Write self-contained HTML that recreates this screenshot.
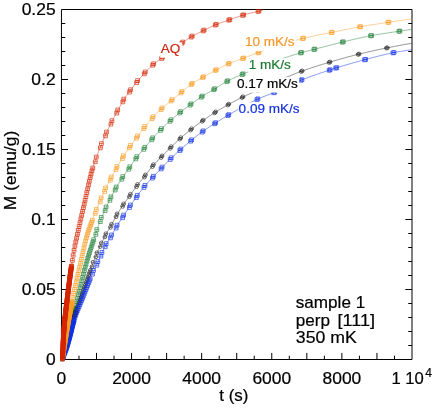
<!DOCTYPE html>
<html><head><meta charset="utf-8"><title>chart</title>
<style>html,body{margin:0;padding:0;background:#fff}svg{display:block;will-change:transform;opacity:0.9999}text{font-family:"Liberation Sans",sans-serif}</style>
</head><body>
<svg width="436" height="408" viewBox="0 0 436 408">
<rect width="436" height="408" fill="#fff"/>
<defs><filter id="bl" x="-5%" y="-5%" width="110%" height="110%"><feGaussianBlur stdDeviation="0.32"/></filter><clipPath id="pc"><rect x="58.45" y="9.2" width="353.85" height="353.3"/></clipPath></defs>
<path d="M61.45 9.5H412V359.5H61.45Z M61.45 345.5h3.8 M412 345.5h-3.8 M61.45 331.5h3.8 M412 331.5h-3.8 M61.45 317.5h3.8 M412 317.5h-3.8 M61.45 303.5h3.8 M412 303.5h-3.8 M61.45 289.5h6.6 M412 289.5h-6.6 M61.45 275.5h3.8 M412 275.5h-3.8 M61.45 261.5h3.8 M412 261.5h-3.8 M61.45 247.5h3.8 M412 247.5h-3.8 M61.45 233.5h3.8 M412 233.5h-3.8 M61.45 219.5h6.6 M412 219.5h-6.6 M61.45 205.5h3.8 M412 205.5h-3.8 M61.45 191.5h3.8 M412 191.5h-3.8 M61.45 177.5h3.8 M412 177.5h-3.8 M61.45 163.5h3.8 M412 163.5h-3.8 M61.45 149.5h6.6 M412 149.5h-6.6 M61.45 135.5h3.8 M412 135.5h-3.8 M61.45 121.5h3.8 M412 121.5h-3.8 M61.45 107.5h3.8 M412 107.5h-3.8 M61.45 93.5h3.8 M412 93.5h-3.8 M61.45 79.5h6.6 M412 79.5h-6.6 M61.45 65.5h3.8 M412 65.5h-3.8 M61.45 51.5h3.8 M412 51.5h-3.8 M61.45 37.5h3.8 M412 37.5h-3.8 M61.45 23.5h3.8 M412 23.5h-3.8 M78.98 359.5v-3.8 M96.5 359.5v-6.6 M114.03 359.5v-3.8 M131.56 359.5v-6.6 M149.09 359.5v-3.8 M166.62 359.5v-6.6 M184.14 359.5v-3.8 M201.67 359.5v-6.6 M219.2 359.5v-3.8 M236.73 359.5v-6.6 M254.25 359.5v-3.8 M271.78 359.5v-6.6 M289.31 359.5v-3.8 M306.83 359.5v-6.6 M324.36 359.5v-3.8 M341.89 359.5v-6.6 M359.42 359.5v-3.8 M376.94 359.5v-6.6 M394.47 359.5v-3.8" stroke="#000" stroke-width="1" fill="none"/>
<g clip-path="url(#pc)" fill="none" filter="url(#bl)">
<path d="M62.4 358.9 L62.6 358.1 L62.8 357.31 L63 356.51 L63.2 355.71 L63.28 355.42 L63.41 354.91 L63.61 354.11 L63.81 353.32 L64.01 352.52 L64.15 351.94 L64.21 351.72 L64.41 350.92 L64.61 350.12 L64.81 349.32 L65.01 348.52 L65.03 348.46 L65.21 347.72 L65.42 346.92 L65.62 346.12 L65.82 345.32 L65.9 344.97 L66.02 344.52 L66.22 343.72 L66.42 342.92 L66.62 342.11 L66.78 341.48 L66.82 341.31 L67.02 340.51 L67.22 339.71 L67.43 338.91 L67.63 338.1 L67.66 337.98 L67.83 337.3 L68.03 336.5 L68.23 335.69 L68.43 334.89 L68.53 334.48 L68.63 334.09 L68.83 333.28 L69.03 332.48 L69.23 331.68 L69.41 330.97 L69.44 330.87 L69.64 330.07 L69.84 329.26 L70.04 328.46 L70.24 327.65 L70.29 327.47 L70.44 326.85 L70.64 326.04 L70.84 325.24 L71.04 324.43 L71.16 323.96 L71.24 323.63 L71.45 322.82 L71.65 322.01 L71.85 321.21 L72.04 320.44 L72.05 320.4 L72.25 319.59 L72.45 318.78 L72.65 317.97 L72.85 317.16 L72.91 316.91 L73.05 316.35 L73.25 315.54 L73.46 314.73 L73.66 313.92 L73.79 313.37 L73.86 313.1 L74.06 312.29 L74.26 311.48 L74.46 310.67 L74.66 309.86 L74.67 309.83 L74.86 309.04 L75.06 308.23 L75.26 307.42 L75.47 306.61 L75.54 306.29 L75.67 305.79 L75.87 304.98 L76.07 304.17 L76.27 303.36 L76.42 302.76 L76.47 302.55 L76.67 301.74 L76.87 300.93 L77.07 300.12 L77.27 299.31 L77.3 299.23 L77.48 298.5 L77.68 297.7 L77.88 296.89 L78.08 296.09 L78.17 295.71 L78.28 295.28 L78.48 294.47 L78.68 293.66 L78.88 292.84 L79.05 292.17 L79.08 292.02 L79.28 291.2 L79.49 290.38 L79.69 289.55 L79.89 288.72 L79.92 288.57 L80.09 287.9 L80.29 287.07 L80.49 286.24 L80.69 285.41 L80.8 284.96 L80.89 284.58 L81.09 283.75 L81.29 282.92 L81.5 282.09 L81.68 281.35 L81.7 281.26 L81.9 280.44 L82.1 279.61 L82.3 278.79 L82.5 277.97 L82.55 277.76 L82.7 277.16 L82.9 276.34 L83.1 275.53 L83.3 274.73 L83.43 274.23 L83.51 273.93 L83.71 273.13 L83.91 272.33 L84.11 271.55 L84.3 270.78 L84.31 270.76 L84.51 269.98 L84.71 269.21 L84.91 268.45 L85.11 267.69 L85.18 267.43 L85.31 266.94 L85.52 266.19 L85.72 265.45 L85.92 264.72 L86.06 264.22 L86.12 264 L86.32 263.28 L86.52 262.58 L86.72 261.88 L86.92 261.18 L86.93 261.14 L87.12 260.49 L87.32 259.8 L87.53 259.12 L87.73 258.44 L87.81 258.16 L87.93 257.76 L88.13 257.09 L88.33 256.42 L88.53 255.76 L88.69 255.25 L88.73 255.1 L88.93 254.45 L89.13 253.79 L89.33 253.15 L89.54 252.5 L89.56 252.42 L89.74 251.86 L89.94 251.22 L90.14 250.58 L90.34 249.95 L90.44 249.64 L90.54 249.32 L90.74 248.69 L90.94 248.07 L91.14 247.45 L91.31 246.92 L91.34 246.83 L91.55 246.21 L91.75 245.6 L91.95 244.98 L92.15 244.37 L92.19 244.25 L92.35 243.76 L92.55 243.16 L92.75 242.55 L92.95 241.95 L93.07 241.6 L93.15 241.34 L93.35 240.74 L93.56 240.14 L93.76 239.54 L93.94 238.99 L93.96 238.95 L94.16 238.35 L94.36 237.75 L94.56 237.16 L94.76 236.56 L94.82 236.39 L94.96 235.97 L95.16 235.38 L95.36 234.78 L95.57 234.19 L95.7 233.81 L95.77 233.6 L95.97 233 L96.17 232.41 L96.37 231.82 L96.57 231.23 L96.57 231.22 L96.77 230.63 L96.97 230.04 L97.17 229.45 L97.37 228.86 L97.45 228.65 L97.58 228.28 L97.78 227.7 L97.98 227.12 L98.18 226.54 L98.32 226.13 L98.38 225.97 L98.58 225.4 L98.78 224.83 L98.98 224.27 L99.18 223.72 L99.2 223.68 L99.38 223.17 L99.59 222.63 L99.79 222.09 L99.99 221.57 L100.08 221.34 L100.19 221.04 L100.39 220.53 L100.59 220.02 L100.79 219.52 L100.95 219.13 L100.99 219.03 L101.19 218.55 L101.39 218.07 L101.6 217.59 L101.8 217.13 L101.83 217.05 L102 216.66 L102.2 216.2 L102.4 215.75 L102.7 215.07 L103.58 213.15 L104.46 211.26 L105.33 209.36 L106.21 207.45 L107.09 205.55 L107.96 203.67 L108.84 201.81 L109.71 199.99 L110.59 198.22 L111.47 196.47 L112.34 194.75 L113.22 193.05 L114.1 191.4 L114.97 189.79 L115.85 188.24 L116.72 186.74 L117.6 185.27 L118.48 183.84 L119.35 182.44 L120.23 181.06 L121.1 179.71 L121.98 178.38 L122.86 177.07 L123.73 175.8 L124.61 174.55 L125.49 173.33 L126.36 172.11 L127.24 170.9 L128.11 169.68 L128.99 168.44 L129.87 167.18 L130.74 165.88 L131.62 164.57 L132.5 163.25 L133.37 161.94 L134.25 160.65 L135.12 159.4 L136 158.2 L136.88 157.05 L137.75 155.96 L138.63 154.89 L139.5 153.86 L140.38 152.84 L141.26 151.83 L142.13 150.83 L143.01 149.82 L143.89 148.79 L144.76 147.75 L145.64 146.68 L146.51 145.61 L147.39 144.54 L148.27 143.47 L149.14 142.4 L150.02 141.35 L150.9 140.31 L151.77 139.29 L152.65 138.29 L153.52 137.31 L154.4 136.34 L155.28 135.38 L156.15 134.43 L157.03 133.5 L157.9 132.57 L158.78 131.66 L159.66 130.76 L160.53 129.87 L161.41 128.99 L162.29 128.13 L163.16 127.28 L164.04 126.44 L164.91 125.6 L165.79 124.78 L166.67 123.97 L167.54 123.16 L168.42 122.37 L169.3 121.58 L170.17 120.79 L171.05 120.01 L171.92 119.24 L172.8 118.48 L173.68 117.72 L174.55 116.96 L175.43 116.22 L176.3 115.48 L177.18 114.75 L178.06 114.03 L178.93 113.32 L179.81 112.61 L180.69 111.92 L181.56 111.23 L182.44 110.55 L183.31 109.88 L184.19 109.22 L185.07 108.56 L185.94 107.91 L186.82 107.26 L187.7 106.62 L188.57 105.98 L189.45 105.34 L190.32 104.7 L191.2 104.06 L192.08 103.42 L192.95 102.79 L193.83 102.15 L194.7 101.51 L195.58 100.88 L196.46 100.25 L197.33 99.63 L198.21 99.02 L199.09 98.41 L199.96 97.82 L200.84 97.23 L201.71 96.66 L202.59 96.09 L203.47 95.54 L204.34 95 L205.22 94.47 L206.1 93.95 L206.97 93.43 L207.85 92.92 L208.72 92.41 L209.6 91.9 L210.48 91.4 L211.35 90.89 L212.23 90.37 L213.1 89.86 L213.98 89.33 L214.86 88.8 L215.73 88.26 L216.61 87.71 L217.49 87.15 L218.36 86.59 L219.24 86.03 L220.11 85.48 L220.99 84.92 L221.87 84.37 L222.74 83.82 L223.62 83.29 L224.5 82.77 L225.37 82.26 L226.25 81.77 L227.12 81.29 L228 80.84 L228.88 80.39 L229.75 79.95 L230.63 79.52 L231.5 79.09 L232.38 78.68 L233.26 78.27 L234.13 77.86 L235.01 77.47 L235.89 77.07 L236.76 76.69 L237.64 76.3 L238.51 75.93 L239.39 75.55 L240.27 75.18 L241.14 74.81 L242.02 74.44 L242.9 74.08 L243.77 73.71 L244.65 73.35 L245.52 72.98 L246.4 72.62 L247.28 72.26 L248.15 71.9 L249.03 71.54 L249.9 71.18 L250.78 70.82 L251.66 70.46 L252.53 70.1 L253.41 69.74 L254.29 69.39 L255.16 69.03 L256.04 68.68 L256.91 68.32 L257.79 67.97 L258.67 67.62 L259.54 67.27 L260.42 66.92 L261.3 66.58 L262.17 66.23 L263.05 65.89 L263.92 65.54 L264.8 65.2 L265.68 64.86 L266.55 64.52 L267.43 64.18 L268.3 63.85 L269.18 63.51 L270.06 63.18 L270.93 62.85 L271.81 62.52 L272.69 62.19 L273.56 61.86 L274.44 61.54 L275.31 61.21 L276.19 60.89 L277.07 60.57 L277.94 60.25 L278.82 59.94 L279.7 59.63 L280.57 59.31 L281.45 59 L282.32 58.7 L283.2 58.39 L284.08 58.09 L284.95 57.79 L285.83 57.49 L286.7 57.19 L287.58 56.9 L288.46 56.6 L289.33 56.32 L290.21 56.03 L291.09 55.74 L291.96 55.46 L292.84 55.18 L293.71 54.9 L294.59 54.63 L295.47 54.36 L296.34 54.09 L297.22 53.82 L298.1 53.56 L298.97 53.29 L299.85 53.04 L300.72 52.78 L301.6 52.53 L302.48 52.28 L303.35 52.05 L304.23 51.82 L305.1 51.59 L305.98 51.37 L306.86 51.15 L307.73 50.93 L308.61 50.72 L309.49 50.51 L310.36 50.3 L311.24 50.08 L312.11 49.87 L312.99 49.65 L313.87 49.44 L314.74 49.21 L315.62 48.99 L316.5 48.76 L317.37 48.54 L318.25 48.31 L319.12 48.08 L320 47.85 L320.88 47.62 L321.75 47.39 L322.63 47.16 L323.5 46.93 L324.38 46.7 L325.26 46.47 L326.13 46.24 L327.01 46.01 L327.89 45.78 L328.76 45.55 L329.64 45.32 L330.51 45.09 L331.39 44.86 L332.27 44.64 L333.14 44.41 L334.02 44.18 L334.9 43.96 L335.77 43.74 L336.65 43.51 L337.52 43.29 L338.4 43.07 L339.28 42.86 L340.15 42.64 L341.03 42.43 L341.9 42.21 L342.78 42 L343.66 41.8 L344.53 41.59 L345.41 41.38 L346.29 41.17 L347.16 40.96 L348.04 40.75 L348.91 40.54 L349.79 40.33 L350.67 40.12 L351.54 39.92 L352.42 39.71 L353.3 39.51 L354.17 39.3 L355.05 39.1 L355.92 38.9 L356.8 38.7 L357.68 38.5 L358.55 38.3 L359.43 38.1 L360.3 37.91 L361.18 37.72 L362.06 37.53 L362.93 37.34 L363.81 37.15 L364.69 36.97 L365.56 36.79 L366.44 36.61 L367.31 36.43 L368.19 36.26 L369.07 36.09 L369.94 35.92 L370.82 35.75 L371.7 35.59 L372.57 35.43 L373.45 35.27 L374.32 35.12 L375.2 34.96 L376.08 34.81 L376.95 34.66 L377.83 34.51 L378.7 34.37 L379.58 34.22 L380.46 34.08 L381.33 33.94 L382.21 33.8 L383.09 33.66 L383.96 33.52 L384.84 33.39 L385.71 33.25 L386.59 33.12 L387.47 32.98 L388.34 32.85 L389.22 32.72 L390.1 32.59 L390.97 32.45 L391.85 32.32 L392.72 32.19 L393.6 32.06 L394.48 31.93 L395.35 31.8 L396.23 31.67 L397.1 31.54 L397.98 31.41 L398.86 31.28 L399.73 31.15 L400.61 31.02 L401.49 30.89 L402.36 30.76 L403.24 30.64 L404.11 30.51 L404.99 30.38 L405.87 30.26 L406.74 30.13 L407.62 30.01 L408.5 29.89 L409.37 29.76 L410.25 29.64 L411.12 29.52 L412 29.4" stroke="#23823a" stroke-width="0.5"/>
<path d="M60.5 357h3.8v3.8h-3.8z M60.5 358.9h3.8 M60.65 356.42h3.8v3.8h-3.8z M60.65 358.32h3.8 M60.79 355.84h3.8v3.8h-3.8z M60.79 357.74h3.8 M60.94 355.25h3.8v3.8h-3.8z M60.94 357.15h3.8 M61.09 354.67h3.8v3.8h-3.8z M61.09 356.57h3.8 M61.23 354.09h3.8v3.8h-3.8z M61.23 355.99h3.8 M61.38 353.51h3.8v3.8h-3.8z M61.38 355.41h3.8 M61.53 352.93h3.8v3.8h-3.8z M61.53 354.83h3.8 M61.67 352.35h3.8v3.8h-3.8z M61.67 354.25h3.8 M61.82 351.76h3.8v3.8h-3.8z M61.82 353.66h3.8 M61.97 351.18h3.8v3.8h-3.8z M61.97 353.08h3.8 M62.11 350.6h3.8v3.8h-3.8z M62.11 352.5h3.8 M62.26 350.02h3.8v3.8h-3.8z M62.26 351.92h3.8 M62.41 349.44h3.8v3.8h-3.8z M62.41 351.34h3.8 M62.55 348.85h3.8v3.8h-3.8z M62.55 350.75h3.8 M62.7 348.27h3.8v3.8h-3.8z M62.7 350.17h3.8 M62.84 347.69h3.8v3.8h-3.8z M62.84 349.59h3.8 M62.99 347.11h3.8v3.8h-3.8z M62.99 349.01h3.8 M63.14 346.53h3.8v3.8h-3.8z M63.14 348.43h3.8 M63.28 345.94h3.8v3.8h-3.8z M63.28 347.84h3.8 M63.43 345.36h3.8v3.8h-3.8z M63.43 347.26h3.8 M63.57 344.78h3.8v3.8h-3.8z M63.57 346.68h3.8 M63.72 344.2h3.8v3.8h-3.8z M63.72 346.1h3.8 M63.87 343.62h3.8v3.8h-3.8z M63.87 345.52h3.8 M64.01 343.04h3.8v3.8h-3.8z M64.01 344.94h3.8 M64.16 342.45h3.8v3.8h-3.8z M64.16 344.35h3.8 M64.31 341.87h3.8v3.8h-3.8z M64.31 343.77h3.8 M64.45 341.29h3.8v3.8h-3.8z M64.45 343.19h3.8 M64.6 340.71h3.8v3.8h-3.8z M64.6 342.61h3.8 M64.74 340.13h3.8v3.8h-3.8z M64.74 342.03h3.8 M64.89 339.54h3.8v3.8h-3.8z M64.89 341.44h3.8 M65.04 338.96h3.8v3.8h-3.8z M65.04 340.86h3.8 M65.18 338.38h3.8v3.8h-3.8z M65.18 340.28h3.8 M65.33 337.8h3.8v3.8h-3.8z M65.33 339.7h3.8 M65.47 337.22h3.8v3.8h-3.8z M65.47 339.12h3.8 M65.62 336.63h3.8v3.8h-3.8z M65.62 338.53h3.8 M65.76 336.05h3.8v3.8h-3.8z M65.76 337.95h3.8 M65.91 335.47h3.8v3.8h-3.8z M65.91 337.37h3.8 M66.06 334.89h3.8v3.8h-3.8z M66.06 336.79h3.8 M66.2 334.31h3.8v3.8h-3.8z M66.2 336.21h3.8 M66.35 333.72h3.8v3.8h-3.8z M66.35 335.62h3.8 M66.49 333.14h3.8v3.8h-3.8z M66.49 335.04h3.8 M66.64 332.56h3.8v3.8h-3.8z M66.64 334.46h3.8 M66.78 331.98h3.8v3.8h-3.8z M66.78 333.88h3.8 M66.93 331.39h3.8v3.8h-3.8z M66.93 333.29h3.8 M67.08 330.81h3.8v3.8h-3.8z M67.08 332.71h3.8 M67.22 330.23h3.8v3.8h-3.8z M67.22 332.13h3.8 M67.37 329.65h3.8v3.8h-3.8z M67.37 331.55h3.8 M67.51 329.07h3.8v3.8h-3.8z M67.51 330.97h3.8 M67.66 328.48h3.8v3.8h-3.8z M67.66 330.38h3.8 M67.8 327.9h3.8v3.8h-3.8z M67.8 329.8h3.8 M67.95 327.32h3.8v3.8h-3.8z M67.95 329.22h3.8 M68.09 326.74h3.8v3.8h-3.8z M68.09 328.64h3.8 M68.24 326.16h3.8v3.8h-3.8z M68.24 328.06h3.8 M68.38 325.57h3.8v3.8h-3.8z M68.38 327.47h3.8 M68.53 324.99h3.8v3.8h-3.8z M68.53 326.89h3.8 M68.67 324.41h3.8v3.8h-3.8z M68.67 326.31h3.8 M68.82 323.83h3.8v3.8h-3.8z M68.82 325.73h3.8 M68.97 323.25h3.8v3.8h-3.8z M68.97 325.15h3.8 M69.11 322.66h3.8v3.8h-3.8z M69.11 324.56h3.8 M69.26 322.08h3.8v3.8h-3.8z M69.26 323.98h3.8 M69.4 321.5h3.8v3.8h-3.8z M69.4 323.4h3.8 M69.55 320.92h3.8v3.8h-3.8z M69.55 322.82h3.8 M69.69 320.33h3.8v3.8h-3.8z M69.69 322.23h3.8 M69.84 319.75h3.8v3.8h-3.8z M69.84 321.65h3.8 M69.98 319.17h3.8v3.8h-3.8z M69.98 321.07h3.8 M70.13 318.59h3.8v3.8h-3.8z M70.13 320.49h3.8 M70.27 318.01h3.8v3.8h-3.8z M70.27 319.91h3.8 M70.42 317.42h3.8v3.8h-3.8z M70.42 319.32h3.8 M70.56 316.84h3.8v3.8h-3.8z M70.56 318.74h3.8 M70.7 316.26h3.8v3.8h-3.8z M70.7 318.16h3.8 M70.85 315.68h3.8v3.8h-3.8z M70.85 317.58h3.8 M70.99 315.09h3.8v3.8h-3.8z M70.99 316.99h3.8 M71.14 314.51h3.8v3.8h-3.8z M71.14 316.41h3.8 M71.28 313.93h3.8v3.8h-3.8z M71.28 315.83h3.8 M71.43 313.35h3.8v3.8h-3.8z M71.43 315.25h3.8 M71.57 312.76h3.8v3.8h-3.8z M71.57 314.66h3.8 M71.72 312.18h3.8v3.8h-3.8z M71.72 314.08h3.8 M71.86 311.6h3.8v3.8h-3.8z M71.86 313.5h3.8 M72 311.02h3.8v3.8h-3.8z M72 312.92h3.8 M72.15 310.43h3.8v3.8h-3.8z M72.15 312.33h3.8 M72.29 309.85h3.8v3.8h-3.8z M72.29 311.75h3.8 M72.44 309.27h3.8v3.8h-3.8z M72.44 311.17h3.8 M72.58 308.69h3.8v3.8h-3.8z M72.58 310.59h3.8 M72.72 308.1h3.8v3.8h-3.8z M72.72 310h3.8 M72.87 307.52h3.8v3.8h-3.8z M72.87 309.42h3.8 M73.01 306.94h3.8v3.8h-3.8z M73.01 308.84h3.8 M73.1 306.59h3.8v3.8h-3.8z M73.1 308.49h3.8 M73.95 303.15h3.8v3.8h-3.8z M73.95 305.05h3.8 M74.8 299.72h3.8v3.8h-3.8z M74.8 301.62h3.8 M75.65 296.31h3.8v3.8h-3.8z M75.65 298.21h3.8 M76.5 292.89h3.8v3.8h-3.8z M76.5 294.79h3.8 M77.35 289.44h3.8v3.8h-3.8z M77.35 291.34h3.8 M78.2 285.95h3.8v3.8h-3.8z M78.2 287.85h3.8 M79.05 282.44h3.8v3.8h-3.8z M79.05 284.34h3.8 M79.9 278.94h3.8v3.8h-3.8z M79.9 280.84h3.8 M80.75 275.47h3.8v3.8h-3.8z M80.75 277.37h3.8 M81.6 272.05h3.8v3.8h-3.8z M81.6 273.95h3.8 M82.45 268.71h3.8v3.8h-3.8z M82.45 270.61h3.8 M83.3 265.46h3.8v3.8h-3.8z M83.3 267.36h3.8 M84.15 262.34h3.8v3.8h-3.8z M84.15 264.24h3.8 M85 259.36h3.8v3.8h-3.8z M85 261.26h3.8 M85.85 256.46h3.8v3.8h-3.8z M85.85 258.36h3.8 M86.7 253.63h3.8v3.8h-3.8z M86.7 255.53h3.8 M87.55 250.88h3.8v3.8h-3.8z M87.55 252.78h3.8 M88.4 248.18h3.8v3.8h-3.8z M88.4 250.08h3.8 M89.25 245.53h3.8v3.8h-3.8z M89.25 247.43h3.8 M90.1 242.92h3.8v3.8h-3.8z M90.1 244.82h3.8 M90.95 240.35h3.8v3.8h-3.8z M90.95 242.25h3.8 M91.8 237.81h3.8v3.8h-3.8z M91.8 239.71h3.8 M93.9 232.52h3.8v3.8h-3.8z M93.9 234.42h3.8 M94.9 227.72h3.8v3.8h-3.8z M94.9 229.62h3.8 M98.4 219.7h3.8v3.8h-3.8z M98.4 221.6h3.8 M99.4 215.51h3.8v3.8h-3.8z M99.4 217.41h3.8 M103.2 208.74h3.8v3.8h-3.8z M103.2 210.64h3.8 M104.2 205.03h3.8v3.8h-3.8z M104.2 206.93h3.8 M108 198.41h3.8v3.8h-3.8z M108 200.31h3.8 M109 194.99h3.8v3.8h-3.8z M109 196.89h3.8 M113.3 188.09h3.8v3.8h-3.8z M113.3 189.99h3.8 M114.3 185.11h3.8v3.8h-3.8z M114.3 187.01h3.8 M119.9 177.28h3.8v3.8h-3.8z M119.9 179.18h3.8 M120.9 174.72h3.8v3.8h-3.8z M120.9 176.62h3.8 M126.9 167.32h3.8v3.8h-3.8z M126.9 169.22h3.8 M127.9 164.88h3.8v3.8h-3.8z M127.9 166.78h3.8 M133.9 157.01h3.8v3.8h-3.8z M133.9 158.91h3.8 M134.9 154.79h3.8v3.8h-3.8z M134.9 156.69h3.8 M141.9 147.42h3.8v3.8h-3.8z M141.9 149.32h3.8 M142.9 145.38h3.8v3.8h-3.8z M142.9 147.28h3.8 M149.8 137.86h3.8v3.8h-3.8z M149.8 139.76h3.8 M150.8 135.94h3.8v3.8h-3.8z M150.8 137.84h3.8 M158.5 128.45h3.8v3.8h-3.8z M158.5 130.35h3.8 M159.5 126.75h3.8v3.8h-3.8z M159.5 128.65h3.8 M168.1 119.36h3.8v3.8h-3.8z M168.1 121.26h3.8 M169.1 117.84h3.8v3.8h-3.8z M169.1 119.74h3.8 M177.8 111.08h3.8v3.8h-3.8z M177.8 112.98h3.8 M178.8 109.72h3.8v3.8h-3.8z M178.8 111.62h3.8 M188.2 103.22h3.8v3.8h-3.8z M188.2 105.12h3.8 M189.2 101.98h3.8v3.8h-3.8z M189.2 103.88h3.8 M199.4 95.25h3.8v3.8h-3.8z M199.4 97.15h3.8 M200.4 94.15h3.8v3.8h-3.8z M200.4 96.05h3.8 M211.8 87.81h3.8v3.8h-3.8z M211.8 89.71h3.8 M212.8 86.79h3.8v3.8h-3.8z M212.8 88.69h3.8 M224.9 79.75h3.8v3.8h-3.8z M224.9 81.65h3.8 M225.9 78.85h3.8v3.8h-3.8z M225.9 80.75h3.8 M240.2 72.65h3.8v3.8h-3.8z M240.2 74.55h3.8 M241.2 71.95h3.8v3.8h-3.8z M241.2 73.85h3.8 M255.6 66.33h3.8v3.8h-3.8z M255.6 68.23h3.8 M256.6 65.65h3.8v3.8h-3.8z M256.6 67.55h3.8 M272.6 59.74h3.8v3.8h-3.8z M272.6 61.64h3.8 M273.6 59.12h3.8v3.8h-3.8z M273.6 61.02h3.8 M298.6 51.05h3.8v3.8h-3.8z M298.6 52.95h3.8 M299.6 50.55h3.8v3.8h-3.8z M299.6 52.45h3.8 M312 47.62h3.8v3.8h-3.8z M312 49.52h3.8 M313 47.18h3.8v3.8h-3.8z M313 49.08h3.8 M340.4 40.3h3.8v3.8h-3.8z M340.4 42.2h3.8 M341.4 39.9h3.8v3.8h-3.8z M341.4 41.8h3.8 M368.7 33.96h3.8v3.8h-3.8z M368.7 35.86h3.8 M369.7 33.64h3.8v3.8h-3.8z M369.7 35.54h3.8 M397 29.43h3.8v3.8h-3.8z M397 31.33h3.8 M398 29.17h3.8v3.8h-3.8z M398 31.07h3.8" stroke="#23823a" stroke-width="0.65"/>
<path d="M62.4 358.9 L62.6 358.1 L62.8 357.3 L63 356.5 L63.2 355.7 L63.28 355.42 L63.41 354.91 L63.61 354.12 L63.81 353.33 L64.01 352.54 L64.15 351.98 L64.21 351.76 L64.41 350.98 L64.61 350.21 L64.81 349.44 L65.01 348.67 L65.03 348.61 L65.21 347.9 L65.42 347.14 L65.62 346.39 L65.82 345.64 L65.9 345.31 L66.02 344.89 L66.22 344.14 L66.42 343.39 L66.62 342.64 L66.78 342.04 L66.82 341.89 L67.02 341.14 L67.22 340.4 L67.43 339.65 L67.63 338.91 L67.66 338.8 L67.83 338.17 L68.03 337.43 L68.23 336.69 L68.43 335.96 L68.53 335.58 L68.63 335.23 L68.83 334.5 L69.03 333.77 L69.23 333.05 L69.41 332.42 L69.44 332.33 L69.64 331.62 L69.84 330.91 L70.04 330.2 L70.24 329.5 L70.29 329.33 L70.44 328.8 L70.64 328.11 L70.84 327.42 L71.04 326.73 L71.16 326.33 L71.24 326.06 L71.45 325.39 L71.65 324.72 L71.85 324.06 L72.04 323.44 L72.05 323.41 L72.25 322.76 L72.45 322.12 L72.65 321.49 L72.85 320.86 L72.91 320.67 L73.05 320.24 L73.25 319.62 L73.46 319 L73.66 318.4 L73.79 317.99 L73.86 317.79 L74.06 317.19 L74.26 316.6 L74.46 316.01 L74.66 315.42 L74.67 315.4 L74.86 314.83 L75.06 314.25 L75.26 313.67 L75.47 313.1 L75.54 312.88 L75.67 312.53 L75.87 311.96 L76.07 311.39 L76.27 310.83 L76.42 310.41 L76.47 310.26 L76.67 309.7 L76.87 309.15 L77.07 308.59 L77.27 308.03 L77.3 307.97 L77.48 307.48 L77.68 306.92 L77.88 306.37 L78.08 305.81 L78.17 305.56 L78.28 305.26 L78.48 304.71 L78.68 304.16 L78.88 303.6 L79.05 303.15 L79.08 303.05 L79.28 302.49 L79.49 301.94 L79.69 301.38 L79.89 300.83 L79.92 300.72 L80.09 300.27 L80.29 299.71 L80.49 299.14 L80.69 298.58 L80.8 298.27 L80.89 298.01 L81.09 297.45 L81.29 296.87 L81.5 296.3 L81.68 295.78 L81.7 295.72 L81.9 295.14 L82.1 294.56 L82.3 293.98 L82.5 293.4 L82.55 293.25 L82.7 292.81 L82.9 292.22 L83.1 291.64 L83.3 291.05 L83.43 290.68 L83.51 290.46 L83.71 289.87 L83.91 289.27 L84.11 288.68 L84.3 288.1 L84.31 288.09 L84.51 287.49 L84.71 286.9 L84.91 286.3 L85.11 285.71 L85.18 285.51 L85.31 285.11 L85.52 284.52 L85.72 283.92 L85.92 283.33 L86.06 282.92 L86.12 282.73 L86.32 282.14 L86.52 281.54 L86.72 280.95 L86.92 280.36 L86.93 280.33 L87.12 279.77 L87.32 279.17 L87.53 278.58 L87.73 277.99 L87.81 277.75 L87.93 277.4 L88.13 276.82 L88.33 276.23 L88.53 275.65 L88.69 275.2 L88.73 275.06 L88.93 274.48 L89.13 273.9 L89.33 273.32 L89.54 272.75 L89.56 272.67 L89.74 272.17 L89.94 271.6 L90.14 271.03 L90.34 270.46 L90.44 270.19 L90.54 269.9 L90.74 269.33 L90.94 268.77 L91.14 268.22 L91.31 267.75 L91.34 267.66 L91.55 267.11 L91.75 266.56 L91.95 266.01 L92.15 265.47 L92.19 265.36 L92.35 264.93 L92.55 264.4 L92.75 263.86 L92.95 263.33 L93.07 263.04 L93.15 262.81 L93.35 262.29 L93.56 261.77 L93.76 261.26 L93.94 260.78 L93.96 260.74 L94.16 260.24 L94.36 259.73 L94.56 259.23 L94.76 258.73 L94.82 258.59 L94.96 258.24 L95.16 257.74 L95.36 257.25 L95.57 256.76 L95.7 256.45 L95.77 256.28 L95.97 255.79 L96.17 255.31 L96.37 254.83 L96.57 254.36 L96.57 254.35 L96.77 253.88 L96.97 253.41 L97.17 252.94 L97.37 252.47 L97.45 252.3 L97.58 252 L97.78 251.53 L97.98 251.07 L98.18 250.61 L98.32 250.28 L98.38 250.15 L98.58 249.7 L98.78 249.24 L98.98 248.79 L99.18 248.34 L99.2 248.3 L99.38 247.89 L99.59 247.44 L99.79 247 L99.99 246.55 L100.08 246.36 L100.19 246.11 L100.39 245.67 L100.59 245.24 L100.79 244.8 L100.95 244.45 L100.99 244.37 L101.19 243.93 L101.39 243.5 L101.6 243.06 L101.8 242.63 L101.83 242.56 L102 242.2 L102.2 241.77 L102.4 241.34 L102.7 240.7 L103.58 238.88 L104.46 237.11 L105.33 235.42 L106.21 233.83 L107.09 232.33 L107.96 230.88 L108.84 229.45 L109.71 228.01 L110.59 226.52 L111.47 224.96 L112.34 223.32 L113.22 221.63 L114.1 219.93 L114.97 218.25 L115.85 216.63 L116.72 215.09 L117.6 213.62 L118.48 212.19 L119.35 210.79 L120.23 209.43 L121.1 208.09 L121.98 206.77 L122.86 205.46 L123.73 204.17 L124.61 202.9 L125.49 201.65 L126.36 200.42 L127.24 199.2 L128.11 197.99 L128.99 196.77 L129.87 195.55 L130.74 194.31 L131.62 193.06 L132.5 191.82 L133.37 190.57 L134.25 189.33 L135.12 188.12 L136 186.92 L136.88 185.76 L137.75 184.64 L138.63 183.54 L139.5 182.48 L140.38 181.43 L141.26 180.39 L142.13 179.36 L143.01 178.31 L143.89 177.25 L144.76 176.17 L145.64 175.06 L146.51 173.91 L147.39 172.73 L148.27 171.55 L149.14 170.36 L150.02 169.19 L150.9 168.05 L151.77 166.95 L152.65 165.89 L153.52 164.89 L154.4 163.94 L155.28 163.01 L156.15 162.11 L157.03 161.23 L157.9 160.36 L158.78 159.5 L159.66 158.64 L160.53 157.77 L161.41 156.89 L162.29 156 L163.16 155.11 L164.04 154.21 L164.91 153.32 L165.79 152.42 L166.67 151.53 L167.54 150.64 L168.42 149.76 L169.3 148.89 L170.17 148.02 L171.05 147.16 L171.92 146.3 L172.8 145.45 L173.68 144.6 L174.55 143.75 L175.43 142.91 L176.3 142.08 L177.18 141.25 L178.06 140.43 L178.93 139.63 L179.81 138.84 L180.69 138.06 L181.56 137.29 L182.44 136.53 L183.31 135.78 L184.19 135.03 L185.07 134.3 L185.94 133.57 L186.82 132.84 L187.7 132.13 L188.57 131.42 L189.45 130.71 L190.32 130.01 L191.2 129.32 L192.08 128.63 L192.95 127.95 L193.83 127.27 L194.7 126.6 L195.58 125.93 L196.46 125.26 L197.33 124.61 L198.21 123.95 L199.09 123.31 L199.96 122.67 L200.84 122.03 L201.71 121.4 L202.59 120.78 L203.47 120.16 L204.34 119.54 L205.22 118.94 L206.1 118.33 L206.97 117.73 L207.85 117.14 L208.72 116.54 L209.6 115.96 L210.48 115.38 L211.35 114.8 L212.23 114.23 L213.1 113.67 L213.98 113.11 L214.86 112.55 L215.73 112 L216.61 111.46 L217.49 110.92 L218.36 110.38 L219.24 109.85 L220.11 109.32 L220.99 108.8 L221.87 108.28 L222.74 107.77 L223.62 107.25 L224.5 106.75 L225.37 106.25 L226.25 105.75 L227.12 105.26 L228 104.77 L228.88 104.28 L229.75 103.8 L230.63 103.32 L231.5 102.85 L232.38 102.38 L233.26 101.91 L234.13 101.45 L235.01 100.99 L235.89 100.53 L236.76 100.08 L237.64 99.63 L238.51 99.18 L239.39 98.74 L240.27 98.3 L241.14 97.87 L242.02 97.44 L242.9 97.01 L243.77 96.59 L244.65 96.17 L245.52 95.76 L246.4 95.35 L247.28 94.94 L248.15 94.54 L249.03 94.14 L249.9 93.75 L250.78 93.35 L251.66 92.95 L252.53 92.56 L253.41 92.16 L254.29 91.76 L255.16 91.37 L256.04 90.97 L256.91 90.57 L257.79 90.16 L258.67 89.76 L259.54 89.36 L260.42 88.96 L261.3 88.56 L262.17 88.15 L263.05 87.75 L263.92 87.35 L264.8 86.95 L265.68 86.54 L266.55 86.14 L267.43 85.74 L268.3 85.34 L269.18 84.94 L270.06 84.54 L270.93 84.14 L271.81 83.74 L272.69 83.34 L273.56 82.94 L274.44 82.55 L275.31 82.15 L276.19 81.76 L277.07 81.37 L277.94 80.97 L278.82 80.59 L279.7 80.2 L280.57 79.81 L281.45 79.43 L282.32 79.04 L283.2 78.66 L284.08 78.28 L284.95 77.9 L285.83 77.53 L286.7 77.16 L287.58 76.79 L288.46 76.42 L289.33 76.05 L290.21 75.69 L291.09 75.33 L291.96 74.97 L292.84 74.61 L293.71 74.26 L294.59 73.91 L295.47 73.57 L296.34 73.22 L297.22 72.88 L298.1 72.55 L298.97 72.21 L299.85 71.88 L300.72 71.56 L301.6 71.24 L302.48 70.92 L303.35 70.6 L304.23 70.29 L305.1 69.98 L305.98 69.67 L306.86 69.37 L307.73 69.07 L308.61 68.77 L309.49 68.48 L310.36 68.18 L311.24 67.89 L312.11 67.61 L312.99 67.32 L313.87 67.04 L314.74 66.75 L315.62 66.47 L316.5 66.2 L317.37 65.92 L318.25 65.65 L319.12 65.37 L320 65.1 L320.88 64.83 L321.75 64.56 L322.63 64.29 L323.5 64.03 L324.38 63.76 L325.26 63.5 L326.13 63.24 L327.01 62.97 L327.89 62.71 L328.76 62.45 L329.64 62.19 L330.51 61.93 L331.39 61.67 L332.27 61.41 L333.14 61.15 L334.02 60.9 L334.9 60.64 L335.77 60.38 L336.65 60.13 L337.52 59.88 L338.4 59.62 L339.28 59.37 L340.15 59.12 L341.03 58.88 L341.9 58.63 L342.78 58.38 L343.66 58.14 L344.53 57.89 L345.41 57.65 L346.29 57.41 L347.16 57.17 L348.04 56.93 L348.91 56.7 L349.79 56.46 L350.67 56.23 L351.54 56 L352.42 55.77 L353.3 55.54 L354.17 55.32 L355.05 55.09 L355.92 54.87 L356.8 54.65 L357.68 54.43 L358.55 54.21 L359.43 54 L360.3 53.78 L361.18 53.57 L362.06 53.36 L362.93 53.15 L363.81 52.94 L364.69 52.74 L365.56 52.53 L366.44 52.33 L367.31 52.12 L368.19 51.92 L369.07 51.72 L369.94 51.53 L370.82 51.33 L371.7 51.13 L372.57 50.94 L373.45 50.74 L374.32 50.55 L375.2 50.36 L376.08 50.17 L376.95 49.98 L377.83 49.79 L378.7 49.6 L379.58 49.42 L380.46 49.23 L381.33 49.05 L382.21 48.86 L383.09 48.68 L383.96 48.5 L384.84 48.32 L385.71 48.14 L386.59 47.96 L387.47 47.79 L388.34 47.61 L389.22 47.43 L390.1 47.26 L390.97 47.08 L391.85 46.91 L392.72 46.74 L393.6 46.57 L394.48 46.4 L395.35 46.23 L396.23 46.06 L397.1 45.89 L397.98 45.73 L398.86 45.56 L399.73 45.4 L400.61 45.23 L401.49 45.07 L402.36 44.91 L403.24 44.75 L404.11 44.59 L404.99 44.43 L405.87 44.27 L406.74 44.12 L407.62 43.96 L408.5 43.81 L409.37 43.65 L410.25 43.5 L411.12 43.35 L412 43.2" stroke="#262626" stroke-width="0.5"/>
<path d="M60.5 358.9a1.9 1.9 0 1 0 3.8 0a1.9 1.9 0 1 0 -3.8 0z M60.5 358.9h3.8 M60.65 358.32a1.9 1.9 0 1 0 3.8 0a1.9 1.9 0 1 0 -3.8 0z M60.65 358.32h3.8 M60.79 357.74a1.9 1.9 0 1 0 3.8 0a1.9 1.9 0 1 0 -3.8 0z M60.79 357.74h3.8 M60.94 357.15a1.9 1.9 0 1 0 3.8 0a1.9 1.9 0 1 0 -3.8 0z M60.94 357.15h3.8 M61.08 356.57a1.9 1.9 0 1 0 3.8 0a1.9 1.9 0 1 0 -3.8 0z M61.08 356.57h3.8 M61.23 355.99a1.9 1.9 0 1 0 3.8 0a1.9 1.9 0 1 0 -3.8 0z M61.23 355.99h3.8 M61.38 355.41a1.9 1.9 0 1 0 3.8 0a1.9 1.9 0 1 0 -3.8 0z M61.38 355.41h3.8 M61.53 354.83a1.9 1.9 0 1 0 3.8 0a1.9 1.9 0 1 0 -3.8 0z M61.53 354.83h3.8 M61.67 354.25a1.9 1.9 0 1 0 3.8 0a1.9 1.9 0 1 0 -3.8 0z M61.67 354.25h3.8 M61.82 353.66a1.9 1.9 0 1 0 3.8 0a1.9 1.9 0 1 0 -3.8 0z M61.82 353.66h3.8 M61.97 353.08a1.9 1.9 0 1 0 3.8 0a1.9 1.9 0 1 0 -3.8 0z M61.97 353.08h3.8 M62.12 352.5a1.9 1.9 0 1 0 3.8 0a1.9 1.9 0 1 0 -3.8 0z M62.12 352.5h3.8 M62.27 351.92a1.9 1.9 0 1 0 3.8 0a1.9 1.9 0 1 0 -3.8 0z M62.27 351.92h3.8 M62.42 351.34a1.9 1.9 0 1 0 3.8 0a1.9 1.9 0 1 0 -3.8 0z M62.42 351.34h3.8 M62.57 350.76a1.9 1.9 0 1 0 3.8 0a1.9 1.9 0 1 0 -3.8 0z M62.57 350.76h3.8 M62.72 350.18a1.9 1.9 0 1 0 3.8 0a1.9 1.9 0 1 0 -3.8 0z M62.72 350.18h3.8 M62.87 349.6a1.9 1.9 0 1 0 3.8 0a1.9 1.9 0 1 0 -3.8 0z M62.87 349.6h3.8 M63.02 349.02a1.9 1.9 0 1 0 3.8 0a1.9 1.9 0 1 0 -3.8 0z M63.02 349.02h3.8 M63.17 348.44a1.9 1.9 0 1 0 3.8 0a1.9 1.9 0 1 0 -3.8 0z M63.17 348.44h3.8 M63.33 347.86a1.9 1.9 0 1 0 3.8 0a1.9 1.9 0 1 0 -3.8 0z M63.33 347.86h3.8 M63.48 347.28a1.9 1.9 0 1 0 3.8 0a1.9 1.9 0 1 0 -3.8 0z M63.48 347.28h3.8 M63.63 346.7a1.9 1.9 0 1 0 3.8 0a1.9 1.9 0 1 0 -3.8 0z M63.63 346.7h3.8 M63.79 346.12a1.9 1.9 0 1 0 3.8 0a1.9 1.9 0 1 0 -3.8 0z M63.79 346.12h3.8 M63.94 345.54a1.9 1.9 0 1 0 3.8 0a1.9 1.9 0 1 0 -3.8 0z M63.94 345.54h3.8 M64.1 344.96a1.9 1.9 0 1 0 3.8 0a1.9 1.9 0 1 0 -3.8 0z M64.1 344.96h3.8 M64.25 344.38a1.9 1.9 0 1 0 3.8 0a1.9 1.9 0 1 0 -3.8 0z M64.25 344.38h3.8 M64.41 343.8a1.9 1.9 0 1 0 3.8 0a1.9 1.9 0 1 0 -3.8 0z M64.41 343.8h3.8 M64.57 343.22a1.9 1.9 0 1 0 3.8 0a1.9 1.9 0 1 0 -3.8 0z M64.57 343.22h3.8 M64.72 342.64a1.9 1.9 0 1 0 3.8 0a1.9 1.9 0 1 0 -3.8 0z M64.72 342.64h3.8 M64.88 342.06a1.9 1.9 0 1 0 3.8 0a1.9 1.9 0 1 0 -3.8 0z M64.88 342.06h3.8 M65.03 341.48a1.9 1.9 0 1 0 3.8 0a1.9 1.9 0 1 0 -3.8 0z M65.03 341.48h3.8 M65.19 340.9a1.9 1.9 0 1 0 3.8 0a1.9 1.9 0 1 0 -3.8 0z M65.19 340.9h3.8 M65.34 340.32a1.9 1.9 0 1 0 3.8 0a1.9 1.9 0 1 0 -3.8 0z M65.34 340.32h3.8 M65.5 339.74a1.9 1.9 0 1 0 3.8 0a1.9 1.9 0 1 0 -3.8 0z M65.5 339.74h3.8 M65.66 339.16a1.9 1.9 0 1 0 3.8 0a1.9 1.9 0 1 0 -3.8 0z M65.66 339.16h3.8 M65.81 338.58a1.9 1.9 0 1 0 3.8 0a1.9 1.9 0 1 0 -3.8 0z M65.81 338.58h3.8 M65.97 338.01a1.9 1.9 0 1 0 3.8 0a1.9 1.9 0 1 0 -3.8 0z M65.97 338.01h3.8 M66.13 337.43a1.9 1.9 0 1 0 3.8 0a1.9 1.9 0 1 0 -3.8 0z M66.13 337.43h3.8 M66.29 336.85a1.9 1.9 0 1 0 3.8 0a1.9 1.9 0 1 0 -3.8 0z M66.29 336.85h3.8 M66.45 336.27a1.9 1.9 0 1 0 3.8 0a1.9 1.9 0 1 0 -3.8 0z M66.45 336.27h3.8 M66.6 335.69a1.9 1.9 0 1 0 3.8 0a1.9 1.9 0 1 0 -3.8 0z M66.6 335.69h3.8 M66.76 335.11a1.9 1.9 0 1 0 3.8 0a1.9 1.9 0 1 0 -3.8 0z M66.76 335.11h3.8 M66.92 334.53a1.9 1.9 0 1 0 3.8 0a1.9 1.9 0 1 0 -3.8 0z M66.92 334.53h3.8 M67.08 333.95a1.9 1.9 0 1 0 3.8 0a1.9 1.9 0 1 0 -3.8 0z M67.08 333.95h3.8 M67.24 333.38a1.9 1.9 0 1 0 3.8 0a1.9 1.9 0 1 0 -3.8 0z M67.24 333.38h3.8 M67.4 332.8a1.9 1.9 0 1 0 3.8 0a1.9 1.9 0 1 0 -3.8 0z M67.4 332.8h3.8 M67.57 332.22a1.9 1.9 0 1 0 3.8 0a1.9 1.9 0 1 0 -3.8 0z M67.57 332.22h3.8 M67.73 331.64a1.9 1.9 0 1 0 3.8 0a1.9 1.9 0 1 0 -3.8 0z M67.73 331.64h3.8 M67.89 331.07a1.9 1.9 0 1 0 3.8 0a1.9 1.9 0 1 0 -3.8 0z M67.89 331.07h3.8 M68.06 330.49a1.9 1.9 0 1 0 3.8 0a1.9 1.9 0 1 0 -3.8 0z M68.06 330.49h3.8 M68.22 329.91a1.9 1.9 0 1 0 3.8 0a1.9 1.9 0 1 0 -3.8 0z M68.22 329.91h3.8 M68.39 329.33a1.9 1.9 0 1 0 3.8 0a1.9 1.9 0 1 0 -3.8 0z M68.39 329.33h3.8 M68.55 328.76a1.9 1.9 0 1 0 3.8 0a1.9 1.9 0 1 0 -3.8 0z M68.55 328.76h3.8 M68.72 328.18a1.9 1.9 0 1 0 3.8 0a1.9 1.9 0 1 0 -3.8 0z M68.72 328.18h3.8 M68.89 327.61a1.9 1.9 0 1 0 3.8 0a1.9 1.9 0 1 0 -3.8 0z M68.89 327.61h3.8 M69.06 327.03a1.9 1.9 0 1 0 3.8 0a1.9 1.9 0 1 0 -3.8 0z M69.06 327.03h3.8 M69.23 326.45a1.9 1.9 0 1 0 3.8 0a1.9 1.9 0 1 0 -3.8 0z M69.23 326.45h3.8 M69.4 325.88a1.9 1.9 0 1 0 3.8 0a1.9 1.9 0 1 0 -3.8 0z M69.4 325.88h3.8 M69.57 325.31a1.9 1.9 0 1 0 3.8 0a1.9 1.9 0 1 0 -3.8 0z M69.57 325.31h3.8 M69.74 324.73a1.9 1.9 0 1 0 3.8 0a1.9 1.9 0 1 0 -3.8 0z M69.74 324.73h3.8 M69.92 324.16a1.9 1.9 0 1 0 3.8 0a1.9 1.9 0 1 0 -3.8 0z M69.92 324.16h3.8 M70.09 323.58a1.9 1.9 0 1 0 3.8 0a1.9 1.9 0 1 0 -3.8 0z M70.09 323.58h3.8 M70.27 323.01a1.9 1.9 0 1 0 3.8 0a1.9 1.9 0 1 0 -3.8 0z M70.27 323.01h3.8 M70.45 322.44a1.9 1.9 0 1 0 3.8 0a1.9 1.9 0 1 0 -3.8 0z M70.45 322.44h3.8 M70.63 321.87a1.9 1.9 0 1 0 3.8 0a1.9 1.9 0 1 0 -3.8 0z M70.63 321.87h3.8 M70.81 321.29a1.9 1.9 0 1 0 3.8 0a1.9 1.9 0 1 0 -3.8 0z M70.81 321.29h3.8 M71 320.72a1.9 1.9 0 1 0 3.8 0a1.9 1.9 0 1 0 -3.8 0z M71 320.72h3.8 M71.18 320.15a1.9 1.9 0 1 0 3.8 0a1.9 1.9 0 1 0 -3.8 0z M71.18 320.15h3.8 M71.37 319.58a1.9 1.9 0 1 0 3.8 0a1.9 1.9 0 1 0 -3.8 0z M71.37 319.58h3.8 M71.55 319.01a1.9 1.9 0 1 0 3.8 0a1.9 1.9 0 1 0 -3.8 0z M71.55 319.01h3.8 M71.74 318.44a1.9 1.9 0 1 0 3.8 0a1.9 1.9 0 1 0 -3.8 0z M71.74 318.44h3.8 M71.93 317.87a1.9 1.9 0 1 0 3.8 0a1.9 1.9 0 1 0 -3.8 0z M71.93 317.87h3.8 M72.12 317.3a1.9 1.9 0 1 0 3.8 0a1.9 1.9 0 1 0 -3.8 0z M72.12 317.3h3.8 M72.31 316.73a1.9 1.9 0 1 0 3.8 0a1.9 1.9 0 1 0 -3.8 0z M72.31 316.73h3.8 M72.51 316.17a1.9 1.9 0 1 0 3.8 0a1.9 1.9 0 1 0 -3.8 0z M72.51 316.17h3.8 M72.7 315.6a1.9 1.9 0 1 0 3.8 0a1.9 1.9 0 1 0 -3.8 0z M72.7 315.6h3.8 M72.89 315.03a1.9 1.9 0 1 0 3.8 0a1.9 1.9 0 1 0 -3.8 0z M72.89 315.03h3.8 M73.09 314.46a1.9 1.9 0 1 0 3.8 0a1.9 1.9 0 1 0 -3.8 0z M73.09 314.46h3.8 M73.29 313.9a1.9 1.9 0 1 0 3.8 0a1.9 1.9 0 1 0 -3.8 0z M73.29 313.9h3.8 M73.48 313.33a1.9 1.9 0 1 0 3.8 0a1.9 1.9 0 1 0 -3.8 0z M73.48 313.33h3.8 M73.68 312.76a1.9 1.9 0 1 0 3.8 0a1.9 1.9 0 1 0 -3.8 0z M73.68 312.76h3.8 M73.88 312.2a1.9 1.9 0 1 0 3.8 0a1.9 1.9 0 1 0 -3.8 0z M73.88 312.2h3.8 M74.08 311.63a1.9 1.9 0 1 0 3.8 0a1.9 1.9 0 1 0 -3.8 0z M74.08 311.63h3.8 M74.1 311.58a1.9 1.9 0 1 0 3.8 0a1.9 1.9 0 1 0 -3.8 0z M74.1 311.58h3.8 M74.95 309.21a1.9 1.9 0 1 0 3.8 0a1.9 1.9 0 1 0 -3.8 0z M74.95 309.21h3.8 M75.8 306.86a1.9 1.9 0 1 0 3.8 0a1.9 1.9 0 1 0 -3.8 0z M75.8 306.86h3.8 M76.65 304.52a1.9 1.9 0 1 0 3.8 0a1.9 1.9 0 1 0 -3.8 0z M76.65 304.52h3.8 M77.5 302.18a1.9 1.9 0 1 0 3.8 0a1.9 1.9 0 1 0 -3.8 0z M77.5 302.18h3.8 M78.35 299.82a1.9 1.9 0 1 0 3.8 0a1.9 1.9 0 1 0 -3.8 0z M78.35 299.82h3.8 M79.2 297.43a1.9 1.9 0 1 0 3.8 0a1.9 1.9 0 1 0 -3.8 0z M79.2 297.43h3.8 M80.05 294.99a1.9 1.9 0 1 0 3.8 0a1.9 1.9 0 1 0 -3.8 0z M80.05 294.99h3.8 M80.9 292.52a1.9 1.9 0 1 0 3.8 0a1.9 1.9 0 1 0 -3.8 0z M80.9 292.52h3.8 M81.75 290.03a1.9 1.9 0 1 0 3.8 0a1.9 1.9 0 1 0 -3.8 0z M81.75 290.03h3.8 M82.6 287.53a1.9 1.9 0 1 0 3.8 0a1.9 1.9 0 1 0 -3.8 0z M82.6 287.53h3.8 M83.45 285.01a1.9 1.9 0 1 0 3.8 0a1.9 1.9 0 1 0 -3.8 0z M83.45 285.01h3.8 M84.3 282.49a1.9 1.9 0 1 0 3.8 0a1.9 1.9 0 1 0 -3.8 0z M84.3 282.49h3.8 M85.15 279.98a1.9 1.9 0 1 0 3.8 0a1.9 1.9 0 1 0 -3.8 0z M85.15 279.98h3.8 M86 277.49a1.9 1.9 0 1 0 3.8 0a1.9 1.9 0 1 0 -3.8 0z M86 277.49h3.8 M86.85 275.01a1.9 1.9 0 1 0 3.8 0a1.9 1.9 0 1 0 -3.8 0z M86.85 275.01h3.8 M87.7 272.56a1.9 1.9 0 1 0 3.8 0a1.9 1.9 0 1 0 -3.8 0z M87.7 272.56h3.8 M88.55 270.15a1.9 1.9 0 1 0 3.8 0a1.9 1.9 0 1 0 -3.8 0z M88.55 270.15h3.8 M90.1 266.79a1.9 1.9 0 1 0 3.8 0a1.9 1.9 0 1 0 -3.8 0z M90.1 266.79h3.8 M91.1 262.27a1.9 1.9 0 1 0 3.8 0a1.9 1.9 0 1 0 -3.8 0z M91.1 262.27h3.8 M94 256.78a1.9 1.9 0 1 0 3.8 0a1.9 1.9 0 1 0 -3.8 0z M94 256.78h3.8 M95 252.74a1.9 1.9 0 1 0 3.8 0a1.9 1.9 0 1 0 -3.8 0z M95 252.74h3.8 M98.4 246.62a1.9 1.9 0 1 0 3.8 0a1.9 1.9 0 1 0 -3.8 0z M98.4 246.62h3.8 M99.4 242.94a1.9 1.9 0 1 0 3.8 0a1.9 1.9 0 1 0 -3.8 0z M99.4 242.94h3.8 M103 236.89a1.9 1.9 0 1 0 3.8 0a1.9 1.9 0 1 0 -3.8 0z M103 236.89h3.8 M104 233.71a1.9 1.9 0 1 0 3.8 0a1.9 1.9 0 1 0 -3.8 0z M104 233.71h3.8 M108.6 227.31a1.9 1.9 0 1 0 3.8 0a1.9 1.9 0 1 0 -3.8 0z M108.6 227.31h3.8 M109.6 224.29a1.9 1.9 0 1 0 3.8 0a1.9 1.9 0 1 0 -3.8 0z M109.6 224.29h3.8 M114.2 216.76a1.9 1.9 0 1 0 3.8 0a1.9 1.9 0 1 0 -3.8 0z M114.2 216.76h3.8 M115.2 213.84a1.9 1.9 0 1 0 3.8 0a1.9 1.9 0 1 0 -3.8 0z M115.2 213.84h3.8 M120.7 206.36a1.9 1.9 0 1 0 3.8 0a1.9 1.9 0 1 0 -3.8 0z M120.7 206.36h3.8 M121.7 203.84a1.9 1.9 0 1 0 3.8 0a1.9 1.9 0 1 0 -3.8 0z M121.7 203.84h3.8 M127.5 196.69a1.9 1.9 0 1 0 3.8 0a1.9 1.9 0 1 0 -3.8 0z M127.5 196.69h3.8 M128.5 194.31a1.9 1.9 0 1 0 3.8 0a1.9 1.9 0 1 0 -3.8 0z M128.5 194.31h3.8 M134.6 186.71a1.9 1.9 0 1 0 3.8 0a1.9 1.9 0 1 0 -3.8 0z M134.6 186.71h3.8 M135.6 184.49a1.9 1.9 0 1 0 3.8 0a1.9 1.9 0 1 0 -3.8 0z M135.6 184.49h3.8 M142.5 177.07a1.9 1.9 0 1 0 3.8 0a1.9 1.9 0 1 0 -3.8 0z M142.5 177.07h3.8 M143.5 174.93a1.9 1.9 0 1 0 3.8 0a1.9 1.9 0 1 0 -3.8 0z M143.5 174.93h3.8 M150.5 166.57a1.9 1.9 0 1 0 3.8 0a1.9 1.9 0 1 0 -3.8 0z M150.5 166.57h3.8 M151.5 164.63a1.9 1.9 0 1 0 3.8 0a1.9 1.9 0 1 0 -3.8 0z M151.5 164.63h3.8 M159.2 157.56a1.9 1.9 0 1 0 3.8 0a1.9 1.9 0 1 0 -3.8 0z M159.2 157.56h3.8 M160.2 155.84a1.9 1.9 0 1 0 3.8 0a1.9 1.9 0 1 0 -3.8 0z M160.2 155.84h3.8 M168.3 148.33a1.9 1.9 0 1 0 3.8 0a1.9 1.9 0 1 0 -3.8 0z M168.3 148.33h3.8 M169.3 146.67a1.9 1.9 0 1 0 3.8 0a1.9 1.9 0 1 0 -3.8 0z M169.3 146.67h3.8 M177.9 139.15a1.9 1.9 0 1 0 3.8 0a1.9 1.9 0 1 0 -3.8 0z M177.9 139.15h3.8 M178.9 137.65a1.9 1.9 0 1 0 3.8 0a1.9 1.9 0 1 0 -3.8 0z M178.9 137.65h3.8 M188.7 130.07a1.9 1.9 0 1 0 3.8 0a1.9 1.9 0 1 0 -3.8 0z M188.7 130.07h3.8 M189.7 128.73a1.9 1.9 0 1 0 3.8 0a1.9 1.9 0 1 0 -3.8 0z M189.7 128.73h3.8 M200.3 121.3a1.9 1.9 0 1 0 3.8 0a1.9 1.9 0 1 0 -3.8 0z M200.3 121.3h3.8 M201.3 120.1a1.9 1.9 0 1 0 3.8 0a1.9 1.9 0 1 0 -3.8 0z M201.3 120.1h3.8 M212.7 112.93a1.9 1.9 0 1 0 3.8 0a1.9 1.9 0 1 0 -3.8 0z M212.7 112.93h3.8 M213.7 111.87a1.9 1.9 0 1 0 3.8 0a1.9 1.9 0 1 0 -3.8 0z M213.7 111.87h3.8 M225.9 105.07a1.9 1.9 0 1 0 3.8 0a1.9 1.9 0 1 0 -3.8 0z M225.9 105.07h3.8 M226.9 104.13a1.9 1.9 0 1 0 3.8 0a1.9 1.9 0 1 0 -3.8 0z M226.9 104.13h3.8 M240.1 97.62a1.9 1.9 0 1 0 3.8 0a1.9 1.9 0 1 0 -3.8 0z M240.1 97.62h3.8 M241.1 96.78a1.9 1.9 0 1 0 3.8 0a1.9 1.9 0 1 0 -3.8 0z M241.1 96.78h3.8 M255.6 90.46a1.9 1.9 0 1 0 3.8 0a1.9 1.9 0 1 0 -3.8 0z M255.6 90.46h3.8 M256.6 89.68a1.9 1.9 0 1 0 3.8 0a1.9 1.9 0 1 0 -3.8 0z M256.6 89.68h3.8 M272.6 82.68a1.9 1.9 0 1 0 3.8 0a1.9 1.9 0 1 0 -3.8 0z M272.6 82.68h3.8 M273.6 81.91a1.9 1.9 0 1 0 3.8 0a1.9 1.9 0 1 0 -3.8 0z M273.6 81.91h3.8 M299.3 71.51a1.9 1.9 0 1 0 3.8 0a1.9 1.9 0 1 0 -3.8 0z M299.3 71.51h3.8 M300.3 70.89a1.9 1.9 0 1 0 3.8 0a1.9 1.9 0 1 0 -3.8 0z M300.3 70.89h3.8 M327.2 62.45a1.9 1.9 0 1 0 3.8 0a1.9 1.9 0 1 0 -3.8 0z M327.2 62.45h3.8 M328.2 61.95a1.9 1.9 0 1 0 3.8 0a1.9 1.9 0 1 0 -3.8 0z M328.2 61.95h3.8 M356.2 54.41a1.9 1.9 0 1 0 3.8 0a1.9 1.9 0 1 0 -3.8 0z M356.2 54.41h3.8 M357.2 53.99a1.9 1.9 0 1 0 3.8 0a1.9 1.9 0 1 0 -3.8 0z M357.2 53.99h3.8 M384.5 48.07a1.9 1.9 0 1 0 3.8 0a1.9 1.9 0 1 0 -3.8 0z M384.5 48.07h3.8 M385.5 47.73a1.9 1.9 0 1 0 3.8 0a1.9 1.9 0 1 0 -3.8 0z M385.5 47.73h3.8" stroke="#262626" stroke-width="0.65"/>
<path d="M62.4 358.9 L62.6 358.33 L62.8 357.77 L63 357.21 L63.2 356.65 L63.28 356.45 L63.41 356.09 L63.61 355.53 L63.81 354.98 L64.01 354.44 L64.15 354.05 L64.21 353.9 L64.41 353.37 L64.61 352.85 L64.81 352.33 L65.01 351.81 L65.03 351.77 L65.21 351.29 L65.42 350.76 L65.62 350.22 L65.82 349.67 L65.9 349.43 L66.02 349.11 L66.22 348.53 L66.42 347.94 L66.62 347.33 L66.78 346.83 L66.82 346.7 L67.02 346.05 L67.22 345.4 L67.43 344.73 L67.63 344.05 L67.66 343.94 L67.83 343.36 L68.03 342.66 L68.23 341.96 L68.43 341.25 L68.53 340.88 L68.63 340.53 L68.83 339.82 L69.03 339.1 L69.23 338.38 L69.41 337.74 L69.44 337.64 L69.64 336.89 L69.84 336.13 L70.04 335.35 L70.24 334.56 L70.29 334.37 L70.44 333.75 L70.64 332.95 L70.84 332.13 L71.04 331.31 L71.16 330.83 L71.24 330.49 L71.45 329.67 L71.65 328.86 L71.85 328.05 L72.04 327.28 L72.05 327.24 L72.25 326.44 L72.45 325.66 L72.65 324.89 L72.85 324.13 L72.91 323.9 L73.05 323.39 L73.25 322.67 L73.46 321.97 L73.66 321.29 L73.79 320.85 L73.86 320.64 L74.06 320 L74.26 319.38 L74.46 318.77 L74.66 318.16 L74.67 318.15 L74.86 317.57 L75.06 316.98 L75.26 316.4 L75.47 315.83 L75.54 315.61 L75.67 315.26 L75.87 314.7 L76.07 314.15 L76.27 313.6 L76.42 313.2 L76.47 313.06 L76.67 312.53 L76.87 312 L77.07 311.47 L77.27 310.95 L77.3 310.9 L77.48 310.44 L77.68 309.93 L77.88 309.42 L78.08 308.92 L78.17 308.69 L78.28 308.42 L78.48 307.92 L78.68 307.43 L78.88 306.94 L79.05 306.54 L79.08 306.45 L79.28 305.96 L79.49 305.48 L79.69 305 L79.89 304.52 L79.92 304.43 L80.09 304.03 L80.29 303.55 L80.49 303.07 L80.69 302.59 L80.8 302.34 L80.89 302.11 L81.09 301.63 L81.29 301.15 L81.5 300.67 L81.68 300.24 L81.7 300.19 L81.9 299.7 L82.1 299.22 L82.3 298.73 L82.5 298.24 L82.55 298.11 L82.7 297.74 L82.9 297.24 L83.1 296.74 L83.3 296.24 L83.43 295.93 L83.51 295.73 L83.71 295.22 L83.91 294.71 L84.11 294.2 L84.3 293.7 L84.31 293.69 L84.51 293.18 L84.71 292.67 L84.91 292.15 L85.11 291.64 L85.18 291.47 L85.31 291.13 L85.52 290.61 L85.72 290.1 L85.92 289.58 L86.06 289.22 L86.12 289.07 L86.32 288.55 L86.52 288.04 L86.72 287.53 L86.92 287.01 L86.93 286.99 L87.12 286.5 L87.32 285.99 L87.53 285.48 L87.73 284.97 L87.81 284.76 L87.93 284.46 L88.13 283.95 L88.33 283.45 L88.53 282.94 L88.69 282.55 L88.73 282.44 L88.93 281.93 L89.13 281.43 L89.33 280.94 L89.54 280.44 L89.56 280.37 L89.74 279.94 L89.94 279.45 L90.14 278.96 L90.34 278.47 L90.44 278.23 L90.54 277.99 L90.74 277.5 L90.94 277.02 L91.14 276.54 L91.31 276.14 L91.34 276.07 L91.55 275.6 L91.75 275.13 L91.95 274.66 L92.15 274.2 L92.19 274.1 L92.35 273.74 L92.55 273.28 L92.75 272.83 L92.95 272.38 L93.07 272.13 L93.15 271.94 L93.35 271.5 L93.56 271.07 L93.76 270.65 L93.94 270.26 L93.96 270.23 L94.16 269.81 L94.36 269.4 L94.56 268.99 L94.76 268.58 L94.82 268.47 L94.96 268.18 L95.16 267.77 L95.36 267.37 L95.57 266.97 L95.7 266.71 L95.77 266.56 L95.97 266.16 L96.17 265.75 L96.37 265.34 L96.57 264.93 L96.57 264.93 L96.77 264.51 L96.97 264.09 L97.17 263.67 L97.37 263.24 L97.45 263.08 L97.58 262.81 L97.78 262.37 L97.98 261.93 L98.18 261.48 L98.32 261.16 L98.38 261.04 L98.58 260.59 L98.78 260.14 L98.98 259.69 L99.18 259.24 L99.2 259.2 L99.38 258.78 L99.59 258.33 L99.79 257.88 L99.99 257.43 L100.08 257.23 L100.19 256.98 L100.39 256.53 L100.59 256.08 L100.79 255.63 L100.95 255.28 L100.99 255.19 L101.19 254.75 L101.39 254.31 L101.6 253.87 L101.8 253.44 L101.83 253.37 L102 252.99 L102.2 252.55 L102.4 252.11 L102.7 251.44 L103.58 249.52 L104.46 247.66 L105.33 245.9 L106.21 244.27 L107.09 242.75 L107.96 241.31 L108.84 239.91 L109.71 238.52 L110.59 237.09 L111.47 235.6 L112.34 234.06 L113.22 232.5 L114.1 230.94 L114.97 229.39 L115.85 227.87 L116.72 226.4 L117.6 224.96 L118.48 223.56 L119.35 222.17 L120.23 220.81 L121.1 219.45 L121.98 218.11 L122.86 216.77 L123.73 215.44 L124.61 214.11 L125.49 212.8 L126.36 211.49 L127.24 210.19 L128.11 208.91 L128.99 207.62 L129.87 206.35 L130.74 205.08 L131.62 203.81 L132.5 202.55 L133.37 201.29 L134.25 200.05 L135.12 198.82 L136 197.6 L136.88 196.4 L137.75 195.2 L138.63 194.01 L139.5 192.82 L140.38 191.64 L141.26 190.49 L142.13 189.35 L143.01 188.23 L143.89 187.14 L144.76 186.09 L145.64 185.07 L146.51 184.07 L147.39 183.1 L148.27 182.14 L149.14 181.2 L150.02 180.27 L150.9 179.34 L151.77 178.41 L152.65 177.47 L153.52 176.53 L154.4 175.59 L155.28 174.66 L156.15 173.73 L157.03 172.8 L157.9 171.88 L158.78 170.95 L159.66 170.03 L160.53 169.12 L161.41 168.2 L162.29 167.28 L163.16 166.36 L164.04 165.44 L164.91 164.51 L165.79 163.59 L166.67 162.68 L167.54 161.77 L168.42 160.87 L169.3 159.99 L170.17 159.12 L171.05 158.26 L171.92 157.42 L172.8 156.59 L173.68 155.78 L174.55 154.97 L175.43 154.17 L176.3 153.37 L177.18 152.58 L178.06 151.8 L178.93 151.02 L179.81 150.24 L180.69 149.46 L181.56 148.68 L182.44 147.91 L183.31 147.13 L184.19 146.37 L185.07 145.6 L185.94 144.84 L186.82 144.09 L187.7 143.34 L188.57 142.6 L189.45 141.86 L190.32 141.14 L191.2 140.42 L192.08 139.7 L192.95 139 L193.83 138.29 L194.7 137.59 L195.58 136.89 L196.46 136.2 L197.33 135.52 L198.21 134.84 L199.09 134.18 L199.96 133.51 L200.84 132.86 L201.71 132.21 L202.59 131.58 L203.47 130.95 L204.34 130.33 L205.22 129.72 L206.1 129.12 L206.97 128.52 L207.85 127.93 L208.72 127.35 L209.6 126.76 L210.48 126.19 L211.35 125.62 L212.23 125.05 L213.1 124.48 L213.98 123.92 L214.86 123.36 L215.73 122.79 L216.61 122.24 L217.49 121.68 L218.36 121.13 L219.24 120.58 L220.11 120.03 L220.99 119.49 L221.87 118.95 L222.74 118.42 L223.62 117.88 L224.5 117.35 L225.37 116.83 L226.25 116.31 L227.12 115.79 L228 115.27 L228.88 114.76 L229.75 114.25 L230.63 113.74 L231.5 113.23 L232.38 112.72 L233.26 112.21 L234.13 111.7 L235.01 111.19 L235.89 110.68 L236.76 110.17 L237.64 109.67 L238.51 109.16 L239.39 108.66 L240.27 108.16 L241.14 107.66 L242.02 107.17 L242.9 106.68 L243.77 106.19 L244.65 105.7 L245.52 105.22 L246.4 104.75 L247.28 104.27 L248.15 103.8 L249.03 103.34 L249.9 102.88 L250.78 102.43 L251.66 101.98 L252.53 101.54 L253.41 101.1 L254.29 100.67 L255.16 100.25 L256.04 99.83 L256.91 99.42 L257.79 99.02 L258.67 98.63 L259.54 98.25 L260.42 97.88 L261.3 97.51 L262.17 97.16 L263.05 96.81 L263.92 96.46 L264.8 96.12 L265.68 95.78 L266.55 95.44 L267.43 95.1 L268.3 94.77 L269.18 94.43 L270.06 94.09 L270.93 93.74 L271.81 93.39 L272.69 93.03 L273.56 92.67 L274.44 92.3 L275.31 91.92 L276.19 91.54 L277.07 91.15 L277.94 90.75 L278.82 90.36 L279.7 89.95 L280.57 89.55 L281.45 89.14 L282.32 88.73 L283.2 88.31 L284.08 87.9 L284.95 87.48 L285.83 87.07 L286.7 86.65 L287.58 86.23 L288.46 85.82 L289.33 85.4 L290.21 84.99 L291.09 84.58 L291.96 84.17 L292.84 83.76 L293.71 83.36 L294.59 82.96 L295.47 82.57 L296.34 82.18 L297.22 81.79 L298.1 81.41 L298.97 81.04 L299.85 80.67 L300.72 80.31 L301.6 79.96 L302.48 79.61 L303.35 79.27 L304.23 78.93 L305.1 78.59 L305.98 78.26 L306.86 77.93 L307.73 77.6 L308.61 77.28 L309.49 76.96 L310.36 76.64 L311.24 76.32 L312.11 76.01 L312.99 75.69 L313.87 75.38 L314.74 75.08 L315.62 74.77 L316.5 74.46 L317.37 74.16 L318.25 73.86 L319.12 73.56 L320 73.26 L320.88 72.96 L321.75 72.67 L322.63 72.37 L323.5 72.08 L324.38 71.78 L325.26 71.49 L326.13 71.19 L327.01 70.9 L327.89 70.61 L328.76 70.31 L329.64 70.02 L330.51 69.73 L331.39 69.44 L332.27 69.15 L333.14 68.87 L334.02 68.58 L334.9 68.31 L335.77 68.03 L336.65 67.76 L337.52 67.49 L338.4 67.23 L339.28 66.96 L340.15 66.69 L341.03 66.43 L341.9 66.16 L342.78 65.9 L343.66 65.64 L344.53 65.38 L345.41 65.12 L346.29 64.86 L347.16 64.6 L348.04 64.35 L348.91 64.09 L349.79 63.84 L350.67 63.58 L351.54 63.33 L352.42 63.08 L353.3 62.83 L354.17 62.58 L355.05 62.34 L355.92 62.09 L356.8 61.85 L357.68 61.6 L358.55 61.36 L359.43 61.12 L360.3 60.88 L361.18 60.65 L362.06 60.41 L362.93 60.17 L363.81 59.94 L364.69 59.71 L365.56 59.48 L366.44 59.25 L367.31 59.02 L368.19 58.78 L369.07 58.55 L369.94 58.32 L370.82 58.09 L371.7 57.86 L372.57 57.63 L373.45 57.4 L374.32 57.17 L375.2 56.94 L376.08 56.72 L376.95 56.49 L377.83 56.27 L378.7 56.05 L379.58 55.83 L380.46 55.61 L381.33 55.39 L382.21 55.18 L383.09 54.97 L383.96 54.76 L384.84 54.55 L385.71 54.35 L386.59 54.15 L387.47 53.95 L388.34 53.76 L389.22 53.57 L390.1 53.39 L390.97 53.2 L391.85 53.02 L392.72 52.85 L393.6 52.68 L394.48 52.51 L395.35 52.35 L396.23 52.19 L397.1 52.03 L397.98 51.87 L398.86 51.72 L399.73 51.56 L400.61 51.41 L401.49 51.27 L402.36 51.12 L403.24 50.98 L404.11 50.84 L404.99 50.7 L405.87 50.57 L406.74 50.43 L407.62 50.31 L408.5 50.18 L409.37 50.06 L410.25 49.93 L411.12 49.82 L412 49.7" stroke="#1231e4" stroke-width="0.5"/>
<path d="M60.5 357h3.8v3.8h-3.8z M60.5 358.9h3.8 M60.7 356.43h3.8v3.8h-3.8z M60.7 358.33h3.8 M60.9 355.87h3.8v3.8h-3.8z M60.9 357.77h3.8 M61.1 355.3h3.8v3.8h-3.8z M61.1 357.2h3.8 M61.31 354.74h3.8v3.8h-3.8z M61.31 356.64h3.8 M61.51 354.18h3.8v3.8h-3.8z M61.51 356.08h3.8 M61.71 353.61h3.8v3.8h-3.8z M61.71 355.51h3.8 M61.92 353.05h3.8v3.8h-3.8z M61.92 354.95h3.8 M62.13 352.48h3.8v3.8h-3.8z M62.13 354.38h3.8 M62.34 351.92h3.8v3.8h-3.8z M62.34 353.82h3.8 M62.55 351.36h3.8v3.8h-3.8z M62.55 353.26h3.8 M62.77 350.8h3.8v3.8h-3.8z M62.77 352.7h3.8 M62.98 350.24h3.8v3.8h-3.8z M62.98 352.14h3.8 M63.2 349.68h3.8v3.8h-3.8z M63.2 351.58h3.8 M63.41 349.12h3.8v3.8h-3.8z M63.41 351.02h3.8 M63.63 348.56h3.8v3.8h-3.8z M63.63 350.46h3.8 M63.83 348h3.8v3.8h-3.8z M63.83 349.9h3.8 M64.04 347.43h3.8v3.8h-3.8z M64.04 349.33h3.8 M64.24 346.87h3.8v3.8h-3.8z M64.24 348.77h3.8 M64.43 346.3h3.8v3.8h-3.8z M64.43 348.2h3.8 M64.62 345.73h3.8v3.8h-3.8z M64.62 347.63h3.8 M64.81 345.16h3.8v3.8h-3.8z M64.81 347.06h3.8 M64.99 344.59h3.8v3.8h-3.8z M64.99 346.49h3.8 M65.17 344.02h3.8v3.8h-3.8z M65.17 345.92h3.8 M65.34 343.44h3.8v3.8h-3.8z M65.34 345.34h3.8 M65.51 342.87h3.8v3.8h-3.8z M65.51 344.77h3.8 M65.68 342.29h3.8v3.8h-3.8z M65.68 344.19h3.8 M65.85 341.72h3.8v3.8h-3.8z M65.85 343.62h3.8 M66.02 341.14h3.8v3.8h-3.8z M66.02 343.04h3.8 M66.19 340.56h3.8v3.8h-3.8z M66.19 342.46h3.8 M66.35 339.99h3.8v3.8h-3.8z M66.35 341.89h3.8 M66.51 339.41h3.8v3.8h-3.8z M66.51 341.31h3.8 M66.68 338.83h3.8v3.8h-3.8z M66.68 340.73h3.8 M66.84 338.25h3.8v3.8h-3.8z M66.84 340.15h3.8 M67 337.68h3.8v3.8h-3.8z M67 339.58h3.8 M67.16 337.1h3.8v3.8h-3.8z M67.16 339h3.8 M67.32 336.52h3.8v3.8h-3.8z M67.32 338.42h3.8 M67.48 335.94h3.8v3.8h-3.8z M67.48 337.84h3.8 M67.64 335.36h3.8v3.8h-3.8z M67.64 337.26h3.8 M67.79 334.78h3.8v3.8h-3.8z M67.79 336.68h3.8 M67.94 334.2h3.8v3.8h-3.8z M67.94 336.1h3.8 M68.09 333.62h3.8v3.8h-3.8z M68.09 335.52h3.8 M68.24 333.04h3.8v3.8h-3.8z M68.24 334.94h3.8 M68.39 332.46h3.8v3.8h-3.8z M68.39 334.36h3.8 M68.54 331.88h3.8v3.8h-3.8z M68.54 333.78h3.8 M68.68 331.29h3.8v3.8h-3.8z M68.68 333.19h3.8 M68.82 330.71h3.8v3.8h-3.8z M68.82 332.61h3.8 M68.97 330.13h3.8v3.8h-3.8z M68.97 332.03h3.8 M69.11 329.55h3.8v3.8h-3.8z M69.11 331.45h3.8 M69.25 328.96h3.8v3.8h-3.8z M69.25 330.86h3.8 M69.4 328.38h3.8v3.8h-3.8z M69.4 330.28h3.8 M69.54 327.8h3.8v3.8h-3.8z M69.54 329.7h3.8 M69.68 327.21h3.8v3.8h-3.8z M69.68 329.11h3.8 M69.83 326.63h3.8v3.8h-3.8z M69.83 328.53h3.8 M69.97 326.05h3.8v3.8h-3.8z M69.97 327.95h3.8 M70.12 325.47h3.8v3.8h-3.8z M70.12 327.37h3.8 M70.26 324.89h3.8v3.8h-3.8z M70.26 326.79h3.8 M70.41 324.3h3.8v3.8h-3.8z M70.41 326.2h3.8 M70.56 323.72h3.8v3.8h-3.8z M70.56 325.62h3.8 M70.71 323.14h3.8v3.8h-3.8z M70.71 325.04h3.8 M70.86 322.56h3.8v3.8h-3.8z M70.86 324.46h3.8 M71.02 321.98h3.8v3.8h-3.8z M71.02 323.88h3.8 M71.18 321.4h3.8v3.8h-3.8z M71.18 323.3h3.8 M71.34 320.83h3.8v3.8h-3.8z M71.34 322.73h3.8 M71.5 320.25h3.8v3.8h-3.8z M71.5 322.15h3.8 M71.67 319.67h3.8v3.8h-3.8z M71.67 321.57h3.8 M71.84 319.1h3.8v3.8h-3.8z M71.84 321h3.8 M72.02 318.53h3.8v3.8h-3.8z M72.02 320.43h3.8 M72.1 318.29h3.8v3.8h-3.8z M72.1 320.19h3.8 M72.95 315.7h3.8v3.8h-3.8z M72.95 317.6h3.8 M73.8 313.27h3.8v3.8h-3.8z M73.8 315.17h3.8 M74.65 310.95h3.8v3.8h-3.8z M74.65 312.85h3.8 M75.5 308.73h3.8v3.8h-3.8z M75.5 310.63h3.8 M76.35 306.59h3.8v3.8h-3.8z M76.35 308.49h3.8 M77.2 304.51h3.8v3.8h-3.8z M77.2 306.41h3.8 M78.05 302.47h3.8v3.8h-3.8z M78.05 304.37h3.8 M78.9 300.44h3.8v3.8h-3.8z M78.9 302.34h3.8 M79.75 298.4h3.8v3.8h-3.8z M79.75 300.3h3.8 M80.6 296.34h3.8v3.8h-3.8z M80.6 298.24h3.8 M81.45 294.23h3.8v3.8h-3.8z M81.45 296.13h3.8 M82.3 292.07h3.8v3.8h-3.8z M82.3 293.97h3.8 M83.15 289.9h3.8v3.8h-3.8z M83.15 291.8h3.8 M84 287.73h3.8v3.8h-3.8z M84 289.63h3.8 M84.85 285.55h3.8v3.8h-3.8z M84.85 287.45h3.8 M85.7 283.39h3.8v3.8h-3.8z M85.7 285.29h3.8 M86.55 281.24h3.8v3.8h-3.8z M86.55 283.14h3.8 M87.4 279.12h3.8v3.8h-3.8z M87.4 281.02h3.8 M88.25 277.03h3.8v3.8h-3.8z M88.25 278.93h3.8 M90.6 272.26h3.8v3.8h-3.8z M90.6 274.16h3.8 M91.6 268.5h3.8v3.8h-3.8z M91.6 270.4h3.8 M94.9 263.32h3.8v3.8h-3.8z M94.9 265.22h3.8 M95.9 259.68h3.8v3.8h-3.8z M95.9 261.58h3.8 M99 254.24h3.8v3.8h-3.8z M99 256.14h3.8 M100 250.56h3.8v3.8h-3.8z M100 252.46h3.8 M103.3 244.89h3.8v3.8h-3.8z M103.3 246.79h3.8 M104.3 241.71h3.8v3.8h-3.8z M104.3 243.61h3.8 M108.6 235.95h3.8v3.8h-3.8z M108.6 237.85h3.8 M109.6 233.05h3.8v3.8h-3.8z M109.6 234.95h3.8 M114.2 226.11h3.8v3.8h-3.8z M114.2 228.01h3.8 M115.2 223.29h3.8v3.8h-3.8z M115.2 225.19h3.8 M120.7 215.8h3.8v3.8h-3.8z M120.7 217.7h3.8 M121.7 213.2h3.8v3.8h-3.8z M121.7 215.1h3.8 M127.5 205.63h3.8v3.8h-3.8z M127.5 207.53h3.8 M128.5 203.17h3.8v3.8h-3.8z M128.5 205.07h3.8 M134.4 195.76h3.8v3.8h-3.8z M134.4 197.66h3.8 M135.4 193.44h3.8v3.8h-3.8z M135.4 195.34h3.8 M142.1 185.52h3.8v3.8h-3.8z M142.1 187.42h3.8 M143.1 183.48h3.8v3.8h-3.8z M143.1 185.38h3.8 M150.5 176.21h3.8v3.8h-3.8z M150.5 178.11h3.8 M151.5 174.39h3.8v3.8h-3.8z M151.5 176.29h3.8 M159.2 166.99h3.8v3.8h-3.8z M159.2 168.89h3.8 M160.2 165.21h3.8v3.8h-3.8z M160.2 167.11h3.8 M168.3 157.53h3.8v3.8h-3.8z M168.3 159.43h3.8 M169.3 155.87h3.8v3.8h-3.8z M169.3 157.77h3.8 M177.9 148.66h3.8v3.8h-3.8z M177.9 150.56h3.8 M178.9 147.14h3.8v3.8h-3.8z M178.9 149.04h3.8 M188.7 139.29h3.8v3.8h-3.8z M188.7 141.19h3.8 M189.7 137.91h3.8v3.8h-3.8z M189.7 139.81h3.8 M200.3 130.21h3.8v3.8h-3.8z M200.3 132.11h3.8 M201.3 128.99h3.8v3.8h-3.8z M201.3 130.89h3.8 M212.7 121.84h3.8v3.8h-3.8z M212.7 123.74h3.8 M213.7 120.76h3.8v3.8h-3.8z M213.7 122.66h3.8 M225.9 113.69h3.8v3.8h-3.8z M225.9 115.59h3.8 M226.9 112.71h3.8v3.8h-3.8z M226.9 114.61h3.8 M240.2 105.42h3.8v3.8h-3.8z M240.2 107.32h3.8 M241.2 104.46h3.8v3.8h-3.8z M241.2 106.36h3.8 M255 97.69h3.8v3.8h-3.8z M255 99.59h3.8 M256 96.91h3.8v3.8h-3.8z M256 98.81h3.8 M271.8 90.86h3.8v3.8h-3.8z M271.8 92.76h3.8 M272.8 90.14h3.8v3.8h-3.8z M272.8 92.04h3.8 M299.1 78.44h3.8v3.8h-3.8z M299.1 80.34h3.8 M300.1 77.76h3.8v3.8h-3.8z M300.1 79.66h3.8 M327.3 68.38h3.8v3.8h-3.8z M327.3 70.28h3.8 M328.3 67.82h3.8v3.8h-3.8z M328.3 69.72h3.8 M333.8 66.26h3.8v3.8h-3.8z M333.8 68.16h3.8 M334.8 65.74h3.8v3.8h-3.8z M334.8 67.64h3.8 M362.7 57.92h3.8v3.8h-3.8z M362.7 59.82h3.8 M363.7 57.48h3.8v3.8h-3.8z M363.7 59.38h3.8 M391.1 50.96h3.8v3.8h-3.8z M391.1 52.86h3.8 M392.1 50.64h3.8v3.8h-3.8z M392.1 52.54h3.8" stroke="#1231e4" stroke-width="0.65"/>
<path d="M62.4 358.9 L62.6 357.54 L62.8 356.19 L63 354.85 L63.2 353.52 L63.28 353.04 L63.41 352.19 L63.61 350.87 L63.81 349.55 L64.01 348.25 L64.15 347.31 L64.21 346.94 L64.41 345.65 L64.61 344.36 L64.81 343.08 L65.01 341.81 L65.03 341.71 L65.21 340.55 L65.42 339.29 L65.62 338.04 L65.82 336.79 L65.9 336.25 L66.02 335.56 L66.22 334.33 L66.42 333.11 L66.62 331.89 L66.78 330.93 L66.82 330.68 L67.02 329.48 L67.22 328.29 L67.43 327.1 L67.63 325.92 L67.66 325.74 L67.83 324.75 L68.03 323.59 L68.23 322.43 L68.43 321.28 L68.53 320.7 L68.63 320.14 L68.83 319 L69.03 317.87 L69.23 316.75 L69.41 315.78 L69.44 315.64 L69.64 314.53 L69.84 313.42 L70.04 312.33 L70.24 311.24 L70.29 310.99 L70.44 310.16 L70.64 309.08 L70.84 308.01 L71.04 306.95 L71.16 306.33 L71.24 305.89 L71.45 304.85 L71.65 303.81 L71.85 302.77 L72.04 301.8 L72.05 301.75 L72.25 300.73 L72.45 299.71 L72.65 298.71 L72.85 297.71 L72.91 297.4 L73.05 296.72 L73.25 295.74 L73.46 294.76 L73.66 293.79 L73.79 293.15 L73.86 292.83 L74.06 291.88 L74.26 290.94 L74.46 290 L74.66 289.07 L74.67 289.04 L74.86 288.14 L75.06 287.22 L75.26 286.31 L75.47 285.4 L75.54 285.05 L75.67 284.49 L75.87 283.59 L76.07 282.7 L76.27 281.8 L76.42 281.14 L76.47 280.92 L76.67 280.03 L76.87 279.15 L77.07 278.27 L77.27 277.39 L77.3 277.3 L77.48 276.51 L77.68 275.64 L77.88 274.76 L78.08 273.89 L78.17 273.49 L78.28 273.02 L78.48 272.15 L78.68 271.27 L78.88 270.4 L79.05 269.68 L79.08 269.53 L79.28 268.65 L79.49 267.78 L79.69 266.9 L79.89 266.02 L79.92 265.86 L80.09 265.13 L80.29 264.23 L80.49 263.34 L80.69 262.43 L80.8 261.94 L80.89 261.52 L81.09 260.61 L81.29 259.7 L81.5 258.78 L81.68 257.95 L81.7 257.86 L81.9 256.94 L82.1 256.02 L82.3 255.11 L82.5 254.19 L82.55 253.95 L82.7 253.28 L82.9 252.37 L83.1 251.46 L83.3 250.56 L83.43 250 L83.51 249.66 L83.71 248.77 L83.91 247.88 L84.11 247.01 L84.3 246.16 L84.31 246.14 L84.51 245.28 L84.71 244.43 L84.91 243.59 L85.11 242.76 L85.18 242.49 L85.31 241.94 L85.52 241.14 L85.72 240.35 L85.92 239.57 L86.06 239.04 L86.12 238.81 L86.32 238.06 L86.52 237.33 L86.72 236.62 L86.92 235.92 L86.93 235.89 L87.12 235.24 L87.32 234.58 L87.53 233.93 L87.73 233.3 L87.81 233.04 L87.93 232.68 L88.13 232.07 L88.33 231.47 L88.53 230.88 L88.69 230.43 L88.73 230.3 L88.93 229.72 L89.13 229.16 L89.33 228.59 L89.54 228.03 L89.56 227.96 L89.74 227.47 L89.94 226.92 L90.14 226.36 L90.34 225.8 L90.44 225.53 L90.54 225.25 L90.74 224.68 L90.94 224.12 L91.14 223.56 L91.31 223.09 L91.34 223.01 L91.55 222.45 L91.75 221.9 L91.95 221.35 L92.15 220.8 L92.19 220.69 L92.35 220.26 L92.55 219.72 L92.75 219.18 L92.95 218.64 L93.07 218.34 L93.15 218.11 L93.35 217.58 L93.56 217.05 L93.76 216.53 L93.94 216.04 L93.96 216 L94.16 215.49 L94.36 214.97 L94.56 214.46 L94.76 213.95 L94.82 213.8 L94.96 213.44 L95.16 212.94 L95.36 212.44 L95.57 211.95 L95.7 211.63 L95.77 211.45 L95.97 210.97 L96.17 210.48 L96.37 210 L96.57 209.52 L96.57 209.52 L96.77 209.04 L96.97 208.56 L97.17 208.09 L97.37 207.62 L97.45 207.45 L97.58 207.14 L97.78 206.68 L97.98 206.21 L98.18 205.74 L98.32 205.4 L98.38 205.27 L98.58 204.8 L98.78 204.34 L98.98 203.87 L99.18 203.4 L99.2 203.37 L99.38 202.94 L99.59 202.47 L99.79 202 L99.99 201.53 L100.08 201.32 L100.19 201.06 L100.39 200.58 L100.59 200.11 L100.79 199.63 L100.95 199.25 L100.99 199.15 L101.19 198.68 L101.39 198.2 L101.6 197.72 L101.8 197.24 L101.83 197.17 L102 196.76 L102.2 196.29 L102.4 195.81 L102.7 195.09 L103.58 193.06 L104.46 191.09 L105.33 189.21 L106.21 187.41 L107.09 185.67 L107.96 183.97 L108.84 182.31 L109.71 180.65 L110.59 179 L111.47 177.33 L112.34 175.67 L113.22 174.01 L114.1 172.38 L114.97 170.76 L115.85 169.17 L116.72 167.6 L117.6 166.07 L118.48 164.55 L119.35 163.04 L120.23 161.57 L121.1 160.11 L121.98 158.68 L122.86 157.27 L123.73 155.89 L124.61 154.52 L125.49 153.18 L126.36 151.86 L127.24 150.56 L128.11 149.27 L128.99 148 L129.87 146.75 L130.74 145.51 L131.62 144.3 L132.5 143.11 L133.37 141.93 L134.25 140.76 L135.12 139.59 L136 138.43 L136.88 137.27 L137.75 136.09 L138.63 134.92 L139.5 133.75 L140.38 132.58 L141.26 131.42 L142.13 130.27 L143.01 129.13 L143.89 128.02 L144.76 126.93 L145.64 125.84 L146.51 124.76 L147.39 123.7 L148.27 122.64 L149.14 121.61 L150.02 120.59 L150.9 119.58 L151.77 118.6 L152.65 117.65 L153.52 116.71 L154.4 115.8 L155.28 114.9 L156.15 114.01 L157.03 113.14 L157.9 112.28 L158.78 111.44 L159.66 110.6 L160.53 109.78 L161.41 108.97 L162.29 108.18 L163.16 107.4 L164.04 106.63 L164.91 105.87 L165.79 105.13 L166.67 104.39 L167.54 103.66 L168.42 102.93 L169.3 102.21 L170.17 101.49 L171.05 100.76 L171.92 100.03 L172.8 99.3 L173.68 98.58 L174.55 97.86 L175.43 97.14 L176.3 96.42 L177.18 95.71 L178.06 94.99 L178.93 94.28 L179.81 93.57 L180.69 92.86 L181.56 92.15 L182.44 91.43 L183.31 90.7 L184.19 89.97 L185.07 89.23 L185.94 88.49 L186.82 87.76 L187.7 87.04 L188.57 86.34 L189.45 85.65 L190.32 84.99 L191.2 84.35 L192.08 83.74 L192.95 83.16 L193.83 82.59 L194.7 82.03 L195.58 81.5 L196.46 80.97 L197.33 80.45 L198.21 79.94 L199.09 79.44 L199.96 78.94 L200.84 78.44 L201.71 77.94 L202.59 77.44 L203.47 76.93 L204.34 76.43 L205.22 75.92 L206.1 75.42 L206.97 74.93 L207.85 74.43 L208.72 73.94 L209.6 73.45 L210.48 72.97 L211.35 72.49 L212.23 72.01 L213.1 71.53 L213.98 71.06 L214.86 70.6 L215.73 70.13 L216.61 69.68 L217.49 69.22 L218.36 68.76 L219.24 68.3 L220.11 67.84 L220.99 67.39 L221.87 66.94 L222.74 66.5 L223.62 66.06 L224.5 65.63 L225.37 65.21 L226.25 64.8 L227.12 64.39 L228 64 L228.88 63.62 L229.75 63.26 L230.63 62.9 L231.5 62.55 L232.38 62.21 L233.26 61.88 L234.13 61.55 L235.01 61.22 L235.89 60.9 L236.76 60.59 L237.64 60.27 L238.51 59.96 L239.39 59.65 L240.27 59.33 L241.14 59.02 L242.02 58.7 L242.9 58.38 L243.77 58.05 L244.65 57.72 L245.52 57.39 L246.4 57.06 L247.28 56.73 L248.15 56.4 L249.03 56.07 L249.9 55.74 L250.78 55.41 L251.66 55.08 L252.53 54.75 L253.41 54.43 L254.29 54.11 L255.16 53.79 L256.04 53.47 L256.91 53.16 L257.79 52.85 L258.67 52.54 L259.54 52.24 L260.42 51.93 L261.3 51.63 L262.17 51.32 L263.05 51.02 L263.92 50.71 L264.8 50.41 L265.68 50.1 L266.55 49.8 L267.43 49.49 L268.3 49.19 L269.18 48.88 L270.06 48.58 L270.93 48.28 L271.81 47.98 L272.69 47.67 L273.56 47.37 L274.44 47.07 L275.31 46.78 L276.19 46.48 L277.07 46.18 L277.94 45.89 L278.82 45.6 L279.7 45.3 L280.57 45.01 L281.45 44.73 L282.32 44.44 L283.2 44.15 L284.08 43.87 L284.95 43.59 L285.83 43.31 L286.7 43.04 L287.58 42.76 L288.46 42.49 L289.33 42.22 L290.21 41.95 L291.09 41.69 L291.96 41.43 L292.84 41.17 L293.71 40.91 L294.59 40.66 L295.47 40.41 L296.34 40.16 L297.22 39.92 L298.1 39.68 L298.97 39.44 L299.85 39.21 L300.72 38.98 L301.6 38.75 L302.48 38.53 L303.35 38.31 L304.23 38.1 L305.1 37.89 L305.98 37.68 L306.86 37.48 L307.73 37.28 L308.61 37.08 L309.49 36.88 L310.36 36.69 L311.24 36.5 L312.11 36.31 L312.99 36.13 L313.87 35.95 L314.74 35.76 L315.62 35.59 L316.5 35.41 L317.37 35.23 L318.25 35.06 L319.12 34.88 L320 34.71 L320.88 34.54 L321.75 34.36 L322.63 34.19 L323.5 34.02 L324.38 33.85 L325.26 33.68 L326.13 33.51 L327.01 33.33 L327.89 33.16 L328.76 32.99 L329.64 32.81 L330.51 32.64 L331.39 32.46 L332.27 32.28 L333.14 32.11 L334.02 31.93 L334.9 31.75 L335.77 31.57 L336.65 31.39 L337.52 31.21 L338.4 31.03 L339.28 30.85 L340.15 30.67 L341.03 30.49 L341.9 30.31 L342.78 30.14 L343.66 29.96 L344.53 29.78 L345.41 29.6 L346.29 29.43 L347.16 29.25 L348.04 29.08 L348.91 28.9 L349.79 28.73 L350.67 28.56 L351.54 28.39 L352.42 28.22 L353.3 28.05 L354.17 27.88 L355.05 27.72 L355.92 27.56 L356.8 27.39 L357.68 27.23 L358.55 27.08 L359.43 26.92 L360.3 26.76 L361.18 26.61 L362.06 26.46 L362.93 26.31 L363.81 26.16 L364.69 26.01 L365.56 25.86 L366.44 25.72 L367.31 25.57 L368.19 25.43 L369.07 25.28 L369.94 25.14 L370.82 25 L371.7 24.86 L372.57 24.72 L373.45 24.58 L374.32 24.44 L375.2 24.3 L376.08 24.17 L376.95 24.03 L377.83 23.9 L378.7 23.76 L379.58 23.63 L380.46 23.49 L381.33 23.36 L382.21 23.23 L383.09 23.09 L383.96 22.96 L384.84 22.83 L385.71 22.7 L386.59 22.57 L387.47 22.44 L388.34 22.31 L389.22 22.18 L390.1 22.05 L390.97 21.92 L391.85 21.79 L392.72 21.66 L393.6 21.54 L394.48 21.41 L395.35 21.29 L396.23 21.16 L397.1 21.04 L397.98 20.91 L398.86 20.79 L399.73 20.66 L400.61 20.54 L401.49 20.42 L402.36 20.3 L403.24 20.18 L404.11 20.06 L404.99 19.94 L405.87 19.82 L406.74 19.7 L407.62 19.58 L408.5 19.46 L409.37 19.35 L410.25 19.23 L411.12 19.12 L412 19" stroke="#fa9c24" stroke-width="0.5"/>
<path d="M60.5 357h3.8v3.8h-3.8z M60.5 358.9h3.8 M60.59 356.41h3.8v3.8h-3.8z M60.59 358.31h3.8 M60.68 355.81h3.8v3.8h-3.8z M60.68 357.71h3.8 M60.76 355.22h3.8v3.8h-3.8z M60.76 357.12h3.8 M60.85 354.63h3.8v3.8h-3.8z M60.85 356.53h3.8 M60.94 354.03h3.8v3.8h-3.8z M60.94 355.93h3.8 M61.03 353.44h3.8v3.8h-3.8z M61.03 355.34h3.8 M61.12 352.85h3.8v3.8h-3.8z M61.12 354.75h3.8 M61.21 352.25h3.8v3.8h-3.8z M61.21 354.15h3.8 M61.3 351.66h3.8v3.8h-3.8z M61.3 353.56h3.8 M61.39 351.07h3.8v3.8h-3.8z M61.39 352.97h3.8 M61.48 350.47h3.8v3.8h-3.8z M61.48 352.37h3.8 M61.57 349.88h3.8v3.8h-3.8z M61.57 351.78h3.8 M61.66 349.29h3.8v3.8h-3.8z M61.66 351.19h3.8 M61.75 348.69h3.8v3.8h-3.8z M61.75 350.59h3.8 M61.84 348.1h3.8v3.8h-3.8z M61.84 350h3.8 M61.93 347.51h3.8v3.8h-3.8z M61.93 349.41h3.8 M62.02 346.91h3.8v3.8h-3.8z M62.02 348.81h3.8 M62.11 346.32h3.8v3.8h-3.8z M62.11 348.22h3.8 M62.2 345.73h3.8v3.8h-3.8z M62.2 347.63h3.8 M62.3 345.14h3.8v3.8h-3.8z M62.3 347.04h3.8 M62.39 344.54h3.8v3.8h-3.8z M62.39 346.44h3.8 M62.48 343.95h3.8v3.8h-3.8z M62.48 345.85h3.8 M62.57 343.36h3.8v3.8h-3.8z M62.57 345.26h3.8 M62.66 342.76h3.8v3.8h-3.8z M62.66 344.66h3.8 M62.76 342.17h3.8v3.8h-3.8z M62.76 344.07h3.8 M62.85 341.58h3.8v3.8h-3.8z M62.85 343.48h3.8 M62.94 340.99h3.8v3.8h-3.8z M62.94 342.89h3.8 M63.04 340.39h3.8v3.8h-3.8z M63.04 342.29h3.8 M63.13 339.8h3.8v3.8h-3.8z M63.13 341.7h3.8 M63.22 339.21h3.8v3.8h-3.8z M63.22 341.11h3.8 M63.32 338.61h3.8v3.8h-3.8z M63.32 340.51h3.8 M63.41 338.02h3.8v3.8h-3.8z M63.41 339.92h3.8 M63.51 337.43h3.8v3.8h-3.8z M63.51 339.33h3.8 M63.6 336.84h3.8v3.8h-3.8z M63.6 338.74h3.8 M63.7 336.25h3.8v3.8h-3.8z M63.7 338.15h3.8 M63.79 335.65h3.8v3.8h-3.8z M63.79 337.55h3.8 M63.89 335.06h3.8v3.8h-3.8z M63.89 336.96h3.8 M63.99 334.47h3.8v3.8h-3.8z M63.99 336.37h3.8 M64.08 333.88h3.8v3.8h-3.8z M64.08 335.78h3.8 M64.18 333.28h3.8v3.8h-3.8z M64.18 335.18h3.8 M64.28 332.69h3.8v3.8h-3.8z M64.28 334.59h3.8 M64.37 332.1h3.8v3.8h-3.8z M64.37 334h3.8 M64.47 331.51h3.8v3.8h-3.8z M64.47 333.41h3.8 M64.57 330.92h3.8v3.8h-3.8z M64.57 332.82h3.8 M64.67 330.32h3.8v3.8h-3.8z M64.67 332.22h3.8 M64.76 329.73h3.8v3.8h-3.8z M64.76 331.63h3.8 M64.86 329.14h3.8v3.8h-3.8z M64.86 331.04h3.8 M64.96 328.55h3.8v3.8h-3.8z M64.96 330.45h3.8 M65.06 327.96h3.8v3.8h-3.8z M65.06 329.86h3.8 M65.16 327.36h3.8v3.8h-3.8z M65.16 329.26h3.8 M65.26 326.77h3.8v3.8h-3.8z M65.26 328.67h3.8 M65.36 326.18h3.8v3.8h-3.8z M65.36 328.08h3.8 M65.46 325.59h3.8v3.8h-3.8z M65.46 327.49h3.8 M65.56 325h3.8v3.8h-3.8z M65.56 326.9h3.8 M65.66 324.41h3.8v3.8h-3.8z M65.66 326.31h3.8 M65.76 323.82h3.8v3.8h-3.8z M65.76 325.72h3.8 M65.86 323.22h3.8v3.8h-3.8z M65.86 325.12h3.8 M65.97 322.63h3.8v3.8h-3.8z M65.97 324.53h3.8 M66.07 322.04h3.8v3.8h-3.8z M66.07 323.94h3.8 M66.17 321.45h3.8v3.8h-3.8z M66.17 323.35h3.8 M66.27 320.86h3.8v3.8h-3.8z M66.27 322.76h3.8 M66.38 320.27h3.8v3.8h-3.8z M66.38 322.17h3.8 M66.48 319.68h3.8v3.8h-3.8z M66.48 321.58h3.8 M66.58 319.09h3.8v3.8h-3.8z M66.58 320.99h3.8 M66.69 318.5h3.8v3.8h-3.8z M66.69 320.4h3.8 M66.79 317.9h3.8v3.8h-3.8z M66.79 319.8h3.8 M66.9 317.31h3.8v3.8h-3.8z M66.9 319.21h3.8 M67 316.72h3.8v3.8h-3.8z M67 318.62h3.8 M67.11 316.13h3.8v3.8h-3.8z M67.11 318.03h3.8 M67.21 315.54h3.8v3.8h-3.8z M67.21 317.44h3.8 M67.32 314.95h3.8v3.8h-3.8z M67.32 316.85h3.8 M67.42 314.36h3.8v3.8h-3.8z M67.42 316.26h3.8 M67.53 313.77h3.8v3.8h-3.8z M67.53 315.67h3.8 M67.64 313.18h3.8v3.8h-3.8z M67.64 315.08h3.8 M67.74 312.59h3.8v3.8h-3.8z M67.74 314.49h3.8 M67.85 312h3.8v3.8h-3.8z M67.85 313.9h3.8 M67.96 311.41h3.8v3.8h-3.8z M67.96 313.31h3.8 M68.07 310.82h3.8v3.8h-3.8z M68.07 312.72h3.8 M68.17 310.23h3.8v3.8h-3.8z M68.17 312.13h3.8 M68.28 309.64h3.8v3.8h-3.8z M68.28 311.54h3.8 M68.39 309.05h3.8v3.8h-3.8z M68.39 310.95h3.8 M68.5 308.46h3.8v3.8h-3.8z M68.5 310.36h3.8 M68.61 307.87h3.8v3.8h-3.8z M68.61 309.77h3.8 M68.72 307.28h3.8v3.8h-3.8z M68.72 309.18h3.8 M68.83 306.69h3.8v3.8h-3.8z M68.83 308.59h3.8 M68.94 306.1h3.8v3.8h-3.8z M68.94 308h3.8 M69.06 305.51h3.8v3.8h-3.8z M69.06 307.41h3.8 M69.17 304.92h3.8v3.8h-3.8z M69.17 306.82h3.8 M69.28 304.33h3.8v3.8h-3.8z M69.28 306.23h3.8 M69.39 303.74h3.8v3.8h-3.8z M69.39 305.64h3.8 M69.51 303.15h3.8v3.8h-3.8z M69.51 305.05h3.8 M69.62 302.56h3.8v3.8h-3.8z M69.62 304.46h3.8 M69.73 301.97h3.8v3.8h-3.8z M69.73 303.87h3.8 M69.85 301.38h3.8v3.8h-3.8z M69.85 303.28h3.8 M69.96 300.8h3.8v3.8h-3.8z M69.96 302.7h3.8 M70.08 300.21h3.8v3.8h-3.8z M70.08 302.11h3.8 M70.1 300.09h3.8v3.8h-3.8z M70.1 301.99h3.8 M70.95 295.82h3.8v3.8h-3.8z M70.95 297.72h3.8 M71.8 291.68h3.8v3.8h-3.8z M71.8 293.58h3.8 M72.65 287.68h3.8v3.8h-3.8z M72.65 289.58h3.8 M73.5 283.79h3.8v3.8h-3.8z M73.5 285.69h3.8 M74.35 279.99h3.8v3.8h-3.8z M74.35 281.89h3.8 M75.2 276.25h3.8v3.8h-3.8z M75.2 278.15h3.8 M76.05 272.55h3.8v3.8h-3.8z M76.05 274.45h3.8 M76.9 268.86h3.8v3.8h-3.8z M76.9 270.76h3.8 M77.75 265.16h3.8v3.8h-3.8z M77.75 267.06h3.8 M78.6 261.39h3.8v3.8h-3.8z M78.6 263.29h3.8 M79.45 257.54h3.8v3.8h-3.8z M79.45 259.44h3.8 M80.3 253.66h3.8v3.8h-3.8z M80.3 255.56h3.8 M81.15 249.8h3.8v3.8h-3.8z M81.15 251.7h3.8 M82 246.02h3.8v3.8h-3.8z M82 247.92h3.8 M82.85 242.37h3.8v3.8h-3.8z M82.85 244.27h3.8 M83.7 238.91h3.8v3.8h-3.8z M83.7 240.81h3.8 M84.55 235.69h3.8v3.8h-3.8z M84.55 237.59h3.8 M85.4 232.76h3.8v3.8h-3.8z M85.4 234.66h3.8 M86.25 230.11h3.8v3.8h-3.8z M86.25 232.01h3.8 M87.1 227.63h3.8v3.8h-3.8z M87.1 229.53h3.8 M87.95 225.26h3.8v3.8h-3.8z M87.95 227.16h3.8 M88.8 222.9h3.8v3.8h-3.8z M88.8 224.8h3.8 M89.65 220.54h3.8v3.8h-3.8z M89.65 222.44h3.8 M90.5 218.22h3.8v3.8h-3.8z M90.5 220.12h3.8 M93.4 211.54h3.8v3.8h-3.8z M93.4 213.44h3.8 M94.4 207.4h3.8v3.8h-3.8z M94.4 209.3h3.8 M98.3 199.96h3.8v3.8h-3.8z M98.3 201.86h3.8 M99.3 195.93h3.8v3.8h-3.8z M99.3 197.83h3.8 M102.7 189.6h3.8v3.8h-3.8z M102.7 191.5h3.8 M103.7 186h3.8v3.8h-3.8z M103.7 187.9h3.8 M108.4 178.32h3.8v3.8h-3.8z M108.4 180.22h3.8 M109.4 175.08h3.8v3.8h-3.8z M109.4 176.98h3.8 M114.1 167.61h3.8v3.8h-3.8z M114.1 169.51h3.8 M115.1 164.59h3.8v3.8h-3.8z M115.1 166.49h3.8 M120.5 156.65h3.8v3.8h-3.8z M120.5 158.55h3.8 M121.5 153.95h3.8v3.8h-3.8z M121.5 155.85h3.8 M127.5 146.01h3.8v3.8h-3.8z M127.5 147.91h3.8 M128.5 143.59h3.8v3.8h-3.8z M128.5 145.49h3.8 M134.6 136.33h3.8v3.8h-3.8z M134.6 138.23h3.8 M135.6 134.07h3.8v3.8h-3.8z M135.6 135.97h3.8 M141.9 126.66h3.8v3.8h-3.8z M141.9 128.56h3.8 M142.9 124.54h3.8v3.8h-3.8z M142.9 126.44h3.8 M150.2 116.72h3.8v3.8h-3.8z M150.2 118.62h3.8 M151.2 114.88h3.8v3.8h-3.8z M151.2 116.78h3.8 M159.2 107.68h3.8v3.8h-3.8z M159.2 109.58h3.8 M160.2 106.12h3.8v3.8h-3.8z M160.2 108.02h3.8 M169.2 99.11h3.8v3.8h-3.8z M169.2 101.01h3.8 M170.2 97.69h3.8v3.8h-3.8z M170.2 99.59h3.8 M179.1 90.99h3.8v3.8h-3.8z M179.1 92.89h3.8 M180.1 89.61h3.8v3.8h-3.8z M180.1 91.51h3.8 M189.3 82.69h3.8v3.8h-3.8z M189.3 84.59h3.8 M190.3 81.51h3.8v3.8h-3.8z M190.3 83.41h3.8 M200.6 75.79h3.8v3.8h-3.8z M200.6 77.69h3.8 M201.6 74.81h3.8v3.8h-3.8z M201.6 76.71h3.8 M213.4 68.65h3.8v3.8h-3.8z M213.4 70.55h3.8 M214.4 67.75h3.8v3.8h-3.8z M214.4 69.65h3.8 M226.3 62.16h3.8v3.8h-3.8z M226.3 64.06h3.8 M227.3 61.44h3.8v3.8h-3.8z M227.3 63.34h3.8 M240.7 56.72h3.8v3.8h-3.8z M240.7 58.62h3.8 M241.7 56.08h3.8v3.8h-3.8z M241.7 57.98h3.8 M256.1 50.99h3.8v3.8h-3.8z M256.1 52.89h3.8 M257.1 50.41h3.8v3.8h-3.8z M257.1 52.31h3.8 M272.6 45.27h3.8v3.8h-3.8z M272.6 47.17h3.8 M273.6 44.69h3.8v3.8h-3.8z M273.6 46.59h3.8 M287.6 40.37h3.8v3.8h-3.8z M287.6 42.27h3.8 M288.6 39.86h3.8v3.8h-3.8z M288.6 41.76h3.8 M300.6 36.71h3.8v3.8h-3.8z M300.6 38.61h3.8 M301.6 36.29h3.8v3.8h-3.8z M301.6 38.19h3.8 M329.3 30.67h3.8v3.8h-3.8z M329.3 32.57h3.8 M330.3 30.33h3.8v3.8h-3.8z M330.3 32.23h3.8 M357.7 25.05h3.8v3.8h-3.8z M357.7 26.95h3.8 M358.7 24.75h3.8v3.8h-3.8z M358.7 26.65h3.8 M386 20.53h3.8v3.8h-3.8z M386 22.43h3.8 M387 20.27h3.8v3.8h-3.8z M387 22.17h3.8" stroke="#fa9c24" stroke-width="0.65"/>
<path d="M62.4 358.9 L62.6 354.56 L62.8 350.29 L62.91 348.13 L63 346.12 L63.2 342.12 L63.41 338.34 L63.41 338.24 L63.61 334.84 L63.81 331.68 L63.92 330.12 L64.01 328.9 L64.21 326.39 L64.41 324.02 L64.42 323.89 L64.61 321.77 L64.81 319.64 L64.93 318.48 L65.01 317.62 L65.21 315.68 L65.42 313.83 L65.43 313.69 L65.62 312.05 L65.82 310.34 L65.94 309.34 L66.02 308.67 L66.22 307.04 L66.42 305.43 L66.44 305.26 L66.62 303.85 L66.82 302.26 L66.95 301.28 L67.02 300.68 L67.22 299.08 L67.43 297.45 L67.45 297.22 L67.63 295.78 L67.83 294.1 L67.96 293.02 L68.03 292.44 L68.23 290.78 L68.43 289.13 L68.46 288.86 L68.63 287.5 L68.83 285.87 L68.97 284.78 L69.03 284.27 L69.23 282.67 L69.44 281.1 L69.47 280.8 L69.64 279.54 L69.84 277.99 L69.98 276.91 L70.04 276.47 L70.24 274.96 L70.44 273.47 L70.48 273.15 L70.64 272.01 L70.84 270.56 L70.99 269.52 L71.04 269.14 L71.24 267.74 L71.45 266.37 L71.49 266.04 L71.65 265.02 L71.85 263.69 L72 262.69 L72.05 262.37 L72.25 261.08 L72.45 259.8 L72.51 259.46 L72.65 258.55 L72.85 257.31 L73.01 256.35 L73.05 256.1 L73.25 254.91 L73.46 253.74 L73.52 253.39 L73.66 252.59 L73.86 251.46 L74.02 250.56 L74.06 250.36 L74.26 249.28 L74.46 248.23 L74.53 247.89 L74.66 247.2 L74.86 246.19 L75.03 245.35 L75.06 245.19 L75.26 244.22 L75.47 243.26 L75.54 242.92 L75.67 242.31 L75.87 241.37 L76.04 240.57 L76.07 240.45 L76.27 239.53 L76.47 238.62 L76.55 238.28 L76.67 237.72 L76.87 236.82 L77.05 236.01 L77.07 235.92 L77.27 235.02 L77.48 234.12 L77.56 233.75 L77.68 233.22 L77.88 232.31 L78.06 231.47 L78.08 231.4 L78.28 230.48 L78.48 229.57 L78.57 229.17 L78.68 228.65 L78.88 227.74 L79.07 226.88 L79.08 226.84 L79.28 225.93 L79.49 225.03 L79.58 224.61 L79.69 224.12 L79.89 223.22 L80.08 222.34 L80.09 222.32 L80.29 221.43 L80.49 220.53 L80.59 220.09 L80.69 219.64 L80.89 218.75 L81.09 217.86 L81.09 217.85 L81.29 216.97 L81.5 216.08 L81.6 215.62 L81.7 215.19 L81.9 214.31 L82.1 213.43 L82.11 213.4 L82.3 212.54 L82.5 211.66 L82.61 211.18 L82.7 210.78 L82.9 209.9 L83.1 209.02 L83.12 208.97 L83.3 208.15 L83.51 207.27 L83.62 206.76 L83.71 206.39 L83.91 205.52 L84.11 204.64 L84.13 204.56 L84.31 203.77 L84.51 202.89 L84.63 202.37 L84.71 202.02 L84.91 201.15 L85.11 200.27 L85.14 200.17 L85.31 199.38 L85.52 198.49 L85.64 197.93 L85.72 197.59 L85.92 196.69 L86.12 195.78 L86.15 195.65 L86.32 194.87 L86.52 193.95 L86.65 193.35 L86.72 193.04 L86.92 192.12 L87.12 191.2 L87.16 191.04 L87.32 190.28 L87.53 189.36 L87.66 188.73 L87.73 188.44 L87.93 187.52 L88.13 186.61 L88.17 186.43 L88.33 185.7 L88.53 184.79 L88.67 184.15 L88.73 183.89 L88.93 183 L89.13 182.11 L89.18 181.91 L89.33 181.22 L89.54 180.35 L89.68 179.71 L89.74 179.48 L89.94 178.62 L90.14 177.78 L90.19 177.56 L90.34 176.94 L90.54 176.11 L90.69 175.49 L90.74 175.3 L90.94 174.5 L91.14 173.71 L91.2 173.49 L91.34 172.94 L91.55 172.18 L91.71 171.59 L91.75 171.43 L91.95 170.71 L92.15 170 L92.21 169.78 L92.35 169.31 L92.55 168.63 L92.72 168.09 L92.75 167.98 L92.95 167.34 L93.15 166.73 L93.22 166.53 L93.35 166.13 L93.56 165.54 L93.73 165.05 L93.76 164.97 L93.96 164.4 L94.16 163.85 L94.23 163.65 L94.36 163.3 L94.56 162.75 L94.74 162.28 L94.76 162.21 L94.96 161.67 L95.16 161.13 L95.24 160.92 L95.36 160.59 L95.57 160.04 L95.75 159.55 L95.77 159.49 L95.97 158.93 L96.17 158.38 L96.25 158.15 L96.37 157.82 L96.57 157.26 L96.76 156.74 L96.77 156.71 L96.97 156.15 L97.17 155.59 L97.26 155.35 L97.37 155.04 L97.58 154.49 L97.77 153.96 L97.78 153.93 L97.98 153.38 L98.18 152.83 L98.27 152.58 L98.38 152.29 L98.58 151.74 L98.78 151.21 L98.78 151.2 L98.98 150.66 L99.18 150.13 L99.28 149.86 L99.38 149.59 L99.59 149.06 L99.79 148.54 L99.79 148.53 L99.99 148.02 L100.19 147.5 L100.29 147.23 L100.39 146.98 L100.59 146.47 L100.79 145.97 L100.8 145.95 L100.99 145.47 L101.19 144.97 L101.31 144.7 L101.39 144.48 L101.6 143.99 L101.8 143.51 L101.81 143.47 L102 143.03 L102.2 142.55 L102.32 142.27 L102.4 142.07 L102.82 141.08 L103.33 139.91 L103.83 138.76 L104.34 137.61 L104.84 136.48 L105.35 135.35 L105.85 134.23 L106.36 133.11 L106.86 131.99 L107.37 130.88 L107.87 129.78 L108.38 128.69 L108.88 127.61 L109.39 126.54 L109.89 125.48 L110.4 124.43 L110.91 123.4 L111.41 122.38 L111.92 121.38 L112.42 120.39 L112.93 119.42 L113.43 118.46 L113.94 117.51 L114.44 116.57 L114.95 115.64 L115.45 114.71 L115.96 113.78 L116.46 112.85 L116.97 111.93 L117.47 110.99 L117.98 110.06 L118.48 109.11 L118.99 108.16 L119.49 107.22 L120 106.28 L120.51 105.35 L121.01 104.43 L121.52 103.52 L122.02 102.64 L122.53 101.77 L123.03 100.93 L123.54 100.12 L124.04 99.33 L124.55 98.56 L125.05 97.81 L125.56 97.07 L126.06 96.34 L126.57 95.62 L127.07 94.91 L127.58 94.21 L128.08 93.52 L128.59 92.83 L129.09 92.14 L129.6 91.45 L130.11 90.76 L130.61 90.07 L131.12 89.38 L131.62 88.69 L132.13 88.01 L132.63 87.33 L133.14 86.66 L133.64 85.99 L134.15 85.33 L134.65 84.67 L135.16 84.02 L135.66 83.38 L136.17 82.75 L136.67 82.12 L137.18 81.5 L137.68 80.9 L138.19 80.29 L138.69 79.7 L139.2 79.11 L139.71 78.52 L140.21 77.95 L140.72 77.37 L141.22 76.81 L141.73 76.24 L142.23 75.68 L142.74 75.13 L143.24 74.58 L143.75 74.03 L144.25 73.49 L144.76 72.94 L145.26 72.4 L145.77 71.86 L146.27 71.32 L146.78 70.78 L147.28 70.24 L147.79 69.7 L148.29 69.17 L148.8 68.64 L149.31 68.12 L149.81 67.6 L150.32 67.1 L150.82 66.6 L151.33 66.11 L151.83 65.64 L152.34 65.17 L152.84 64.72 L153.35 64.29 L153.85 63.87 L154.36 63.46 L154.86 63.06 L155.37 62.67 L155.87 62.28 L156.38 61.91 L156.88 61.54 L157.39 61.17 L157.89 60.81 L158.4 60.45 L158.91 60.1 L159.41 59.74 L159.92 59.38 L160.42 59.02 L160.93 58.66 L161.43 58.29 L161.94 57.92 L162.44 57.54 L162.95 57.16 L163.45 56.78 L163.96 56.4 L164.46 56.02 L164.97 55.63 L165.47 55.25 L165.98 54.86 L166.48 54.47 L166.99 54.08 L167.49 53.69 L168 53.31 L168.51 52.92 L169.01 52.53 L169.52 52.14 L170.02 51.75 L170.53 51.36 L171.03 50.97 L171.54 50.58 L172.04 50.19 L172.55 49.8 L173.05 49.41 L173.56 49.03 L174.06 48.64 L174.57 48.26 L175.07 47.88 L175.58 47.5 L176.08 47.12 L176.59 46.74 L177.09 46.37 L177.6 45.99 L178.11 45.62 L178.61 45.25 L179.12 44.89 L179.62 44.52 L180.13 44.16 L180.63 43.8 L181.14 43.45 L181.64 43.09 L182.15 42.74 L182.65 42.4 L183.16 42.05 L183.66 41.71 L184.17 41.36 L184.67 41.02 L185.18 40.69 L185.68 40.35 L186.19 40.02 L186.69 39.68 L187.2 39.36 L187.71 39.03 L188.21 38.71 L188.72 38.39 L189.22 38.08 L189.73 37.77 L190.23 37.46 L190.74 37.16 L191.24 36.86 L191.75 36.57 L192.25 36.29 L192.76 36 L193.26 35.72 L193.77 35.45 L194.27 35.18 L194.78 34.91 L195.28 34.64 L195.79 34.38 L196.29 34.12 L196.8 33.86 L197.31 33.61 L197.81 33.35 L198.32 33.1 L198.82 32.85 L199.33 32.6 L199.83 32.35 L200.34 32.1 L200.84 31.85 L201.35 31.61 L201.85 31.36 L202.36 31.11 L202.86 30.86 L203.37 30.61 L203.87 30.36 L204.38 30.11 L204.88 29.86 L205.39 29.61 L205.89 29.36 L206.4 29.11 L206.91 28.85 L207.41 28.6 L207.92 28.35 L208.42 28.1 L208.93 27.85 L209.43 27.6 L209.94 27.35 L210.44 27.11 L210.95 26.87 L211.45 26.63 L211.96 26.39 L212.46 26.16 L212.97 25.92 L213.47 25.7 L213.98 25.47 L214.48 25.25 L214.99 25.04 L215.49 24.83 L216 24.62 L216.51 24.42 L217.01 24.22 L217.52 24.02 L218.02 23.83 L218.53 23.64 L219.03 23.45 L219.54 23.27 L220.04 23.08 L220.55 22.9 L221.05 22.73 L221.56 22.55 L222.06 22.37 L222.57 22.2 L223.07 22.03 L223.58 21.85 L224.08 21.68 L224.59 21.51 L225.09 21.34 L225.6 21.17 L226.11 21 L226.61 20.83 L227.12 20.66 L227.62 20.48 L228.13 20.31 L228.63 20.13 L229.14 19.96 L229.64 19.78 L230.15 19.6 L230.65 19.42 L231.16 19.24 L231.66 19.05 L232.17 18.87 L232.67 18.69 L233.18 18.5 L233.68 18.32 L234.19 18.13 L234.69 17.95 L235.2 17.76 L235.71 17.58 L236.21 17.4 L236.72 17.22 L237.22 17.03 L237.73 16.86 L238.23 16.68 L238.74 16.5 L239.24 16.33 L239.75 16.16 L240.25 15.99 L240.76 15.83 L241.26 15.66 L241.77 15.5 L242.27 15.35 L242.78 15.2 L243.28 15.05 L243.79 14.9 L244.29 14.76 L244.8 14.62 L245.31 14.48 L245.81 14.35 L246.32 14.22 L246.82 14.09 L247.33 13.96 L247.83 13.84 L248.34 13.72 L248.84 13.59 L249.35 13.47 L249.85 13.35 L250.36 13.23 L250.86 13.11 L251.37 12.99 L251.87 12.88 L252.38 12.76 L252.88 12.64 L253.39 12.52 L253.89 12.39 L254.4 12.27 L254.91 12.15 L255.41 12.02 L255.92 11.89 L256.42 11.76 L256.93 11.63 L257.43 11.5 L257.94 11.36 L258.44 11.22 L258.95 11.07 L259.45 10.92 L259.96 10.77 L260.46 10.62 L260.97 10.47 L261.47 10.31 L261.98 10.15 L262.48 9.99 L262.99 9.83 L263.49 9.66 L264 9.5" stroke="#d62505" stroke-width="0.5"/>
<path d="M60.5 357h3.8v3.8h-3.8z M60.5 358.9h3.8 M60.53 356.4h3.8v3.8h-3.8z M60.53 358.3h3.8 M60.56 355.8h3.8v3.8h-3.8z M60.56 357.7h3.8 M60.58 355.2h3.8v3.8h-3.8z M60.58 357.1h3.8 M60.61 354.6h3.8v3.8h-3.8z M60.61 356.5h3.8 M60.64 354h3.8v3.8h-3.8z M60.64 355.9h3.8 M60.67 353.4h3.8v3.8h-3.8z M60.67 355.3h3.8 M60.69 352.8h3.8v3.8h-3.8z M60.69 354.7h3.8 M60.72 352.21h3.8v3.8h-3.8z M60.72 354.11h3.8 M60.75 351.61h3.8v3.8h-3.8z M60.75 353.51h3.8 M60.78 351.01h3.8v3.8h-3.8z M60.78 352.91h3.8 M60.81 350.41h3.8v3.8h-3.8z M60.81 352.31h3.8 M60.83 349.81h3.8v3.8h-3.8z M60.83 351.71h3.8 M60.86 349.21h3.8v3.8h-3.8z M60.86 351.11h3.8 M60.89 348.61h3.8v3.8h-3.8z M60.89 350.51h3.8 M60.92 348.01h3.8v3.8h-3.8z M60.92 349.91h3.8 M60.95 347.41h3.8v3.8h-3.8z M60.95 349.31h3.8 M60.98 346.81h3.8v3.8h-3.8z M60.98 348.71h3.8 M61.01 346.21h3.8v3.8h-3.8z M61.01 348.11h3.8 M61.04 345.61h3.8v3.8h-3.8z M61.04 347.51h3.8 M61.06 345.01h3.8v3.8h-3.8z M61.06 346.91h3.8 M61.09 344.41h3.8v3.8h-3.8z M61.09 346.31h3.8 M61.12 343.81h3.8v3.8h-3.8z M61.12 345.71h3.8 M61.15 343.22h3.8v3.8h-3.8z M61.15 345.12h3.8 M61.18 342.62h3.8v3.8h-3.8z M61.18 344.52h3.8 M61.21 342.02h3.8v3.8h-3.8z M61.21 343.92h3.8 M61.24 341.42h3.8v3.8h-3.8z M61.24 343.32h3.8 M61.27 340.82h3.8v3.8h-3.8z M61.27 342.72h3.8 M61.3 340.22h3.8v3.8h-3.8z M61.3 342.12h3.8 M61.34 339.62h3.8v3.8h-3.8z M61.34 341.52h3.8 M61.37 339.02h3.8v3.8h-3.8z M61.37 340.92h3.8 M61.4 338.42h3.8v3.8h-3.8z M61.4 340.32h3.8 M61.43 337.82h3.8v3.8h-3.8z M61.43 339.72h3.8 M61.46 337.22h3.8v3.8h-3.8z M61.46 339.12h3.8 M61.5 336.62h3.8v3.8h-3.8z M61.5 338.52h3.8 M61.53 336.03h3.8v3.8h-3.8z M61.53 337.93h3.8 M61.56 335.43h3.8v3.8h-3.8z M61.56 337.33h3.8 M61.6 334.83h3.8v3.8h-3.8z M61.6 336.73h3.8 M61.63 334.23h3.8v3.8h-3.8z M61.63 336.13h3.8 M61.67 333.63h3.8v3.8h-3.8z M61.67 335.53h3.8 M61.7 333.03h3.8v3.8h-3.8z M61.7 334.93h3.8 M61.74 332.43h3.8v3.8h-3.8z M61.74 334.33h3.8 M61.77 331.83h3.8v3.8h-3.8z M61.77 333.73h3.8 M61.81 331.23h3.8v3.8h-3.8z M61.81 333.13h3.8 M61.85 330.63h3.8v3.8h-3.8z M61.85 332.53h3.8 M61.89 330.04h3.8v3.8h-3.8z M61.89 331.94h3.8 M61.93 329.44h3.8v3.8h-3.8z M61.93 331.34h3.8 M61.97 328.84h3.8v3.8h-3.8z M61.97 330.74h3.8 M62.01 328.24h3.8v3.8h-3.8z M62.01 330.14h3.8 M62.06 327.64h3.8v3.8h-3.8z M62.06 329.54h3.8 M62.1 327.04h3.8v3.8h-3.8z M62.1 328.94h3.8 M62.15 326.45h3.8v3.8h-3.8z M62.15 328.35h3.8 M62.2 325.85h3.8v3.8h-3.8z M62.2 327.75h3.8 M62.25 325.25h3.8v3.8h-3.8z M62.25 327.15h3.8 M62.3 324.65h3.8v3.8h-3.8z M62.3 326.55h3.8 M62.35 324.05h3.8v3.8h-3.8z M62.35 325.95h3.8 M62.4 323.46h3.8v3.8h-3.8z M62.4 325.36h3.8 M62.45 322.86h3.8v3.8h-3.8z M62.45 324.76h3.8 M62.5 322.26h3.8v3.8h-3.8z M62.5 324.16h3.8 M62.55 321.66h3.8v3.8h-3.8z M62.55 323.56h3.8 M62.6 321.06h3.8v3.8h-3.8z M62.6 322.96h3.8 M62.66 320.47h3.8v3.8h-3.8z M62.66 322.37h3.8 M62.71 319.87h3.8v3.8h-3.8z M62.71 321.77h3.8 M62.77 319.27h3.8v3.8h-3.8z M62.77 321.17h3.8 M62.82 318.67h3.8v3.8h-3.8z M62.82 320.57h3.8 M62.88 318.08h3.8v3.8h-3.8z M62.88 319.98h3.8 M62.94 317.48h3.8v3.8h-3.8z M62.94 319.38h3.8 M63 316.88h3.8v3.8h-3.8z M63 318.78h3.8 M63.06 316.29h3.8v3.8h-3.8z M63.06 318.19h3.8 M63.12 315.69h3.8v3.8h-3.8z M63.12 317.59h3.8 M63.18 315.09h3.8v3.8h-3.8z M63.18 316.99h3.8 M63.24 314.5h3.8v3.8h-3.8z M63.24 316.4h3.8 M63.3 313.9h3.8v3.8h-3.8z M63.3 315.8h3.8 M63.37 313.3h3.8v3.8h-3.8z M63.37 315.2h3.8 M63.43 312.71h3.8v3.8h-3.8z M63.43 314.61h3.8 M63.5 312.11h3.8v3.8h-3.8z M63.5 314.01h3.8 M63.56 311.51h3.8v3.8h-3.8z M63.56 313.41h3.8 M63.63 310.92h3.8v3.8h-3.8z M63.63 312.82h3.8 M63.7 310.32h3.8v3.8h-3.8z M63.7 312.22h3.8 M63.77 309.72h3.8v3.8h-3.8z M63.77 311.62h3.8 M63.84 309.13h3.8v3.8h-3.8z M63.84 311.03h3.8 M63.91 308.53h3.8v3.8h-3.8z M63.91 310.43h3.8 M63.98 307.94h3.8v3.8h-3.8z M63.98 309.84h3.8 M64.05 307.34h3.8v3.8h-3.8z M64.05 309.24h3.8 M64.12 306.75h3.8v3.8h-3.8z M64.12 308.65h3.8 M64.19 306.15h3.8v3.8h-3.8z M64.19 308.05h3.8 M64.27 305.55h3.8v3.8h-3.8z M64.27 307.45h3.8 M64.34 304.96h3.8v3.8h-3.8z M64.34 306.86h3.8 M64.42 304.36h3.8v3.8h-3.8z M64.42 306.26h3.8 M64.49 303.77h3.8v3.8h-3.8z M64.49 305.67h3.8 M64.57 303.17h3.8v3.8h-3.8z M64.57 305.07h3.8 M64.64 302.58h3.8v3.8h-3.8z M64.64 304.48h3.8 M64.72 301.98h3.8v3.8h-3.8z M64.72 303.88h3.8 M64.79 301.39h3.8v3.8h-3.8z M64.79 303.29h3.8 M64.87 300.79h3.8v3.8h-3.8z M64.87 302.69h3.8 M64.94 300.2h3.8v3.8h-3.8z M64.94 302.1h3.8 M65.02 299.6h3.8v3.8h-3.8z M65.02 301.5h3.8 M65.09 299.01h3.8v3.8h-3.8z M65.09 300.91h3.8 M65.17 298.41h3.8v3.8h-3.8z M65.17 300.31h3.8 M65.24 297.82h3.8v3.8h-3.8z M65.24 299.72h3.8 M65.32 297.22h3.8v3.8h-3.8z M65.32 299.12h3.8 M65.39 296.63h3.8v3.8h-3.8z M65.39 298.53h3.8 M65.47 296.03h3.8v3.8h-3.8z M65.47 297.93h3.8 M65.54 295.43h3.8v3.8h-3.8z M65.54 297.33h3.8 M65.61 294.84h3.8v3.8h-3.8z M65.61 296.74h3.8 M65.68 294.24h3.8v3.8h-3.8z M65.68 296.14h3.8 M65.75 293.65h3.8v3.8h-3.8z M65.75 295.55h3.8 M65.83 293.05h3.8v3.8h-3.8z M65.83 294.95h3.8 M65.9 292.46h3.8v3.8h-3.8z M65.9 294.36h3.8 M65.97 291.86h3.8v3.8h-3.8z M65.97 293.76h3.8 M66.04 291.26h3.8v3.8h-3.8z M66.04 293.16h3.8 M66.11 290.67h3.8v3.8h-3.8z M66.11 292.57h3.8 M66.18 290.07h3.8v3.8h-3.8z M66.18 291.97h3.8 M66.26 289.48h3.8v3.8h-3.8z M66.26 291.38h3.8 M66.33 288.88h3.8v3.8h-3.8z M66.33 290.78h3.8 M66.4 288.29h3.8v3.8h-3.8z M66.4 290.19h3.8 M66.47 287.69h3.8v3.8h-3.8z M66.47 289.59h3.8 M66.55 287.09h3.8v3.8h-3.8z M66.55 288.99h3.8 M66.62 286.5h3.8v3.8h-3.8z M66.62 288.4h3.8 M66.69 285.9h3.8v3.8h-3.8z M66.69 287.8h3.8 M66.77 285.31h3.8v3.8h-3.8z M66.77 287.21h3.8 M66.84 284.71h3.8v3.8h-3.8z M66.84 286.61h3.8 M66.91 284.12h3.8v3.8h-3.8z M66.91 286.02h3.8 M66.99 283.52h3.8v3.8h-3.8z M66.99 285.42h3.8 M67.06 282.93h3.8v3.8h-3.8z M67.06 284.83h3.8 M67.14 282.33h3.8v3.8h-3.8z M67.14 284.23h3.8 M67.21 281.74h3.8v3.8h-3.8z M67.21 283.64h3.8 M67.29 281.14h3.8v3.8h-3.8z M67.29 283.04h3.8 M67.36 280.55h3.8v3.8h-3.8z M67.36 282.45h3.8 M67.44 279.95h3.8v3.8h-3.8z M67.44 281.85h3.8 M67.51 279.36h3.8v3.8h-3.8z M67.51 281.26h3.8 M67.59 278.76h3.8v3.8h-3.8z M67.59 280.66h3.8 M67.67 278.16h3.8v3.8h-3.8z M67.67 280.06h3.8 M67.74 277.57h3.8v3.8h-3.8z M67.74 279.47h3.8 M67.82 276.97h3.8v3.8h-3.8z M67.82 278.87h3.8 M67.9 276.38h3.8v3.8h-3.8z M67.9 278.28h3.8 M67.98 275.78h3.8v3.8h-3.8z M67.98 277.68h3.8 M68.06 275.19h3.8v3.8h-3.8z M68.06 277.09h3.8 M68.13 274.6h3.8v3.8h-3.8z M68.13 276.5h3.8 M68.21 274h3.8v3.8h-3.8z M68.21 275.9h3.8 M68.29 273.41h3.8v3.8h-3.8z M68.29 275.31h3.8 M68.37 272.81h3.8v3.8h-3.8z M68.37 274.71h3.8 M68.45 272.22h3.8v3.8h-3.8z M68.45 274.12h3.8 M68.53 271.62h3.8v3.8h-3.8z M68.53 273.52h3.8 M68.61 271.03h3.8v3.8h-3.8z M68.61 272.93h3.8 M68.7 270.43h3.8v3.8h-3.8z M68.7 272.33h3.8 M68.78 269.84h3.8v3.8h-3.8z M68.78 271.74h3.8 M68.86 269.24h3.8v3.8h-3.8z M68.86 271.14h3.8 M68.94 268.65h3.8v3.8h-3.8z M68.94 270.55h3.8 M69.03 268.06h3.8v3.8h-3.8z M69.03 269.96h3.8 M69.11 267.46h3.8v3.8h-3.8z M69.11 269.36h3.8 M69.2 266.87h3.8v3.8h-3.8z M69.2 268.77h3.8 M69.28 266.27h3.8v3.8h-3.8z M69.28 268.17h3.8 M69.37 265.68h3.8v3.8h-3.8z M69.37 267.58h3.8 M69.45 265.09h3.8v3.8h-3.8z M69.45 266.99h3.8 M69.54 264.49h3.8v3.8h-3.8z M69.54 266.39h3.8 M69.6 264.1h3.8v3.8h-3.8z M69.6 266h3.8 M70.45 258.54h3.8v3.8h-3.8z M70.45 260.44h3.8 M71.3 253.33h3.8v3.8h-3.8z M71.3 255.23h3.8 M72.15 248.51h3.8v3.8h-3.8z M72.15 250.41h3.8 M73 244.1h3.8v3.8h-3.8z M73 246h3.8 M73.85 240.02h3.8v3.8h-3.8z M73.85 241.92h3.8 M74.7 236.14h3.8v3.8h-3.8z M74.7 238.04h3.8 M75.55 232.34h3.8v3.8h-3.8z M75.55 234.24h3.8 M76.4 228.49h3.8v3.8h-3.8z M76.4 230.39h3.8 M77.25 224.64h3.8v3.8h-3.8z M77.25 226.54h3.8 M78.1 220.82h3.8v3.8h-3.8z M78.1 222.72h3.8 M78.95 217.04h3.8v3.8h-3.8z M78.95 218.94h3.8 M79.8 213.28h3.8v3.8h-3.8z M79.8 215.18h3.8 M80.65 209.55h3.8v3.8h-3.8z M80.65 211.45h3.8 M81.5 205.83h3.8v3.8h-3.8z M81.5 207.73h3.8 M82.35 202.13h3.8v3.8h-3.8z M82.35 204.03h3.8 M83.2 198.43h3.8v3.8h-3.8z M83.2 200.33h3.8 M84.05 194.64h3.8v3.8h-3.8z M84.05 196.54h3.8 M84.9 190.78h3.8v3.8h-3.8z M84.9 192.68h3.8 M85.75 186.89h3.8v3.8h-3.8z M85.75 188.79h3.8 M86.6 183.03h3.8v3.8h-3.8z M86.6 184.93h3.8 M87.45 179.26h3.8v3.8h-3.8z M87.45 181.16h3.8 M88.3 175.62h3.8v3.8h-3.8z M88.3 177.52h3.8 M89.15 172.18h3.8v3.8h-3.8z M89.15 174.08h3.8 M90 168.98h3.8v3.8h-3.8z M90 170.88h3.8 M90.85 166.08h3.8v3.8h-3.8z M90.85 167.98h3.8 M93.4 159.86h3.8v3.8h-3.8z M93.4 161.76h3.8 M94.4 155.14h3.8v3.8h-3.8z M94.4 157.04h3.8 M98.5 145.91h3.8v3.8h-3.8z M98.5 147.81h3.8 M99.5 141.69h3.8v3.8h-3.8z M99.5 143.59h3.8 M103.6 133.89h3.8v3.8h-3.8z M103.6 135.79h3.8 M104.6 130.11h3.8v3.8h-3.8z M104.6 132.01h3.8 M109 122.2h3.8v3.8h-3.8z M109 124.1h3.8 M110 118.8h3.8v3.8h-3.8z M110 120.7h3.8 M114.8 111.16h3.8v3.8h-3.8z M114.8 113.06h3.8 M115.8 108.04h3.8v3.8h-3.8z M115.8 109.94h3.8 M120.9 99.96h3.8v3.8h-3.8z M120.9 101.86h3.8 M121.9 97.24h3.8v3.8h-3.8z M121.9 99.14h3.8 M127.6 90.16h3.8v3.8h-3.8z M127.6 92.06h3.8 M128.6 87.84h3.8v3.8h-3.8z M128.6 89.74h3.8 M134.7 80.73h3.8v3.8h-3.8z M134.7 82.63h3.8 M135.7 78.67h3.8v3.8h-3.8z M135.7 80.57h3.8 M142.4 71.91h3.8v3.8h-3.8z M142.4 73.81h3.8 M143.4 70.09h3.8v3.8h-3.8z M143.4 71.99h3.8 M150.7 63.33h3.8v3.8h-3.8z M150.7 65.23h3.8 M151.7 61.87h3.8v3.8h-3.8z M151.7 63.77h3.8 M159.7 56.53h3.8v3.8h-3.8z M159.7 58.43h3.8 M160.7 55.27h3.8v3.8h-3.8z M160.7 57.17h3.8 M169.6 48.97h3.8v3.8h-3.8z M169.6 50.87h3.8 M170.6 47.67h3.8v3.8h-3.8z M170.6 49.57h3.8 M179.9 41.32h3.8v3.8h-3.8z M179.9 43.22h3.8 M180.9 40.15h3.8v3.8h-3.8z M180.9 42.05h3.8 M189.3 35.19h3.8v3.8h-3.8z M189.3 37.09h3.8 M190.3 34.21h3.8v3.8h-3.8z M190.3 36.11h3.8 M201.2 29.02h3.8v3.8h-3.8z M201.2 30.92h3.8 M202.2 28.18h3.8v3.8h-3.8z M202.2 30.08h3.8 M213.4 23.15h3.8v3.8h-3.8z M213.4 25.05h3.8 M214.4 22.45h3.8v3.8h-3.8z M214.4 24.35h3.8 M226.9 18.3h3.8v3.8h-3.8z M226.9 20.2h3.8 M227.9 17.7h3.8v3.8h-3.8z M227.9 19.6h3.8 M240.7 13.45h3.8v3.8h-3.8z M240.7 15.35h3.8 M241.7 12.95h3.8v3.8h-3.8z M241.7 14.85h3.8 M256.1 9.54h3.8v3.8h-3.8z M256.1 11.44h3.8 M257.1 9.06h3.8v3.8h-3.8z M257.1 10.96h3.8" stroke="#d62505" stroke-width="0.65"/>
</g>
<rect x="160.2" y="42.4" width="21.8" height="15.3" fill="#fff"/>
<rect x="244.4" y="35.6" width="51.5" height="15.3" fill="#fff"/>
<rect x="248.2" y="58.3" width="44" height="15.3" fill="#fff"/>
<rect x="236.4" y="77.3" width="62.8" height="15.3" fill="#fff"/>
<rect x="238.1" y="102.5" width="62.8" height="15.3" fill="#fff"/>
<text x="160.7" y="53.2" fill="#cc2a12" stroke="#cc2a12" stroke-width="0.2" font-size="13.55">AQ</text>
<text x="244.9" y="46.4" fill="#f7982a" stroke="#f7982a" stroke-width="0.2" font-size="13.55">10 mK/s</text>
<text x="248.7" y="69.1" fill="#1c7a31" stroke="#1c7a31" stroke-width="0.2" font-size="13.55">1 mK/s</text>
<text x="236.9" y="88.1" fill="#000" stroke="#000" stroke-width="0.2" font-size="13.55">0.17 mK/s</text>
<text x="238.6" y="113.3" fill="#1631e0" stroke="#1631e0" stroke-width="0.2" font-size="13.55">0.09 mK/s</text>
<g font-size="16" fill="#000" stroke="#000" stroke-width="0.2">
<text transform="translate(55.6 365.2) scale(1.09 1)" text-anchor="end">0</text>
<text transform="translate(55.6 295.2) scale(1.09 1)" text-anchor="end">0.05</text>
<text transform="translate(55.6 225.2) scale(1.09 1)" text-anchor="end">0.1</text>
<text transform="translate(55.6 155.2) scale(1.09 1)" text-anchor="end">0.15</text>
<text transform="translate(55.6 85.2) scale(1.09 1)" text-anchor="end">0.2</text>
<text transform="translate(55.6 15.2) scale(1.09 1)" text-anchor="end">0.25</text>
<text transform="translate(61.45 384) scale(1.09 1)" text-anchor="middle">0</text>
<text transform="translate(131.56 384) scale(1.09 1)" text-anchor="middle">2000</text>
<text transform="translate(201.67 384) scale(1.09 1)" text-anchor="middle">4000</text>
<text transform="translate(271.78 384) scale(1.09 1)" text-anchor="middle">6000</text>
<text transform="translate(341.89 384) scale(1.09 1)" text-anchor="middle">8000</text>
<text transform="translate(391.4 384) scale(1.04 1)">1 10</text>
<text x="425.2" y="377" font-size="12">4</text>
<text transform="translate(219.3 401.3) scale(1.06 1)">t (s)</text>
<text transform="translate(15.7 210.2) rotate(-90) scale(1.09 1)">M (emu/g)</text>
<text transform="translate(295.8 308.2) scale(1.07 1)">sample 1</text>
<text transform="translate(295.8 325.7) scale(1.07 1)">perp</text>
<text transform="translate(337.6 325.7) scale(1.13 1)">[111]</text>
<text transform="translate(295.8 343.2) scale(1.105 1)">350 mK</text>
</g>
</svg>
</body></html>
